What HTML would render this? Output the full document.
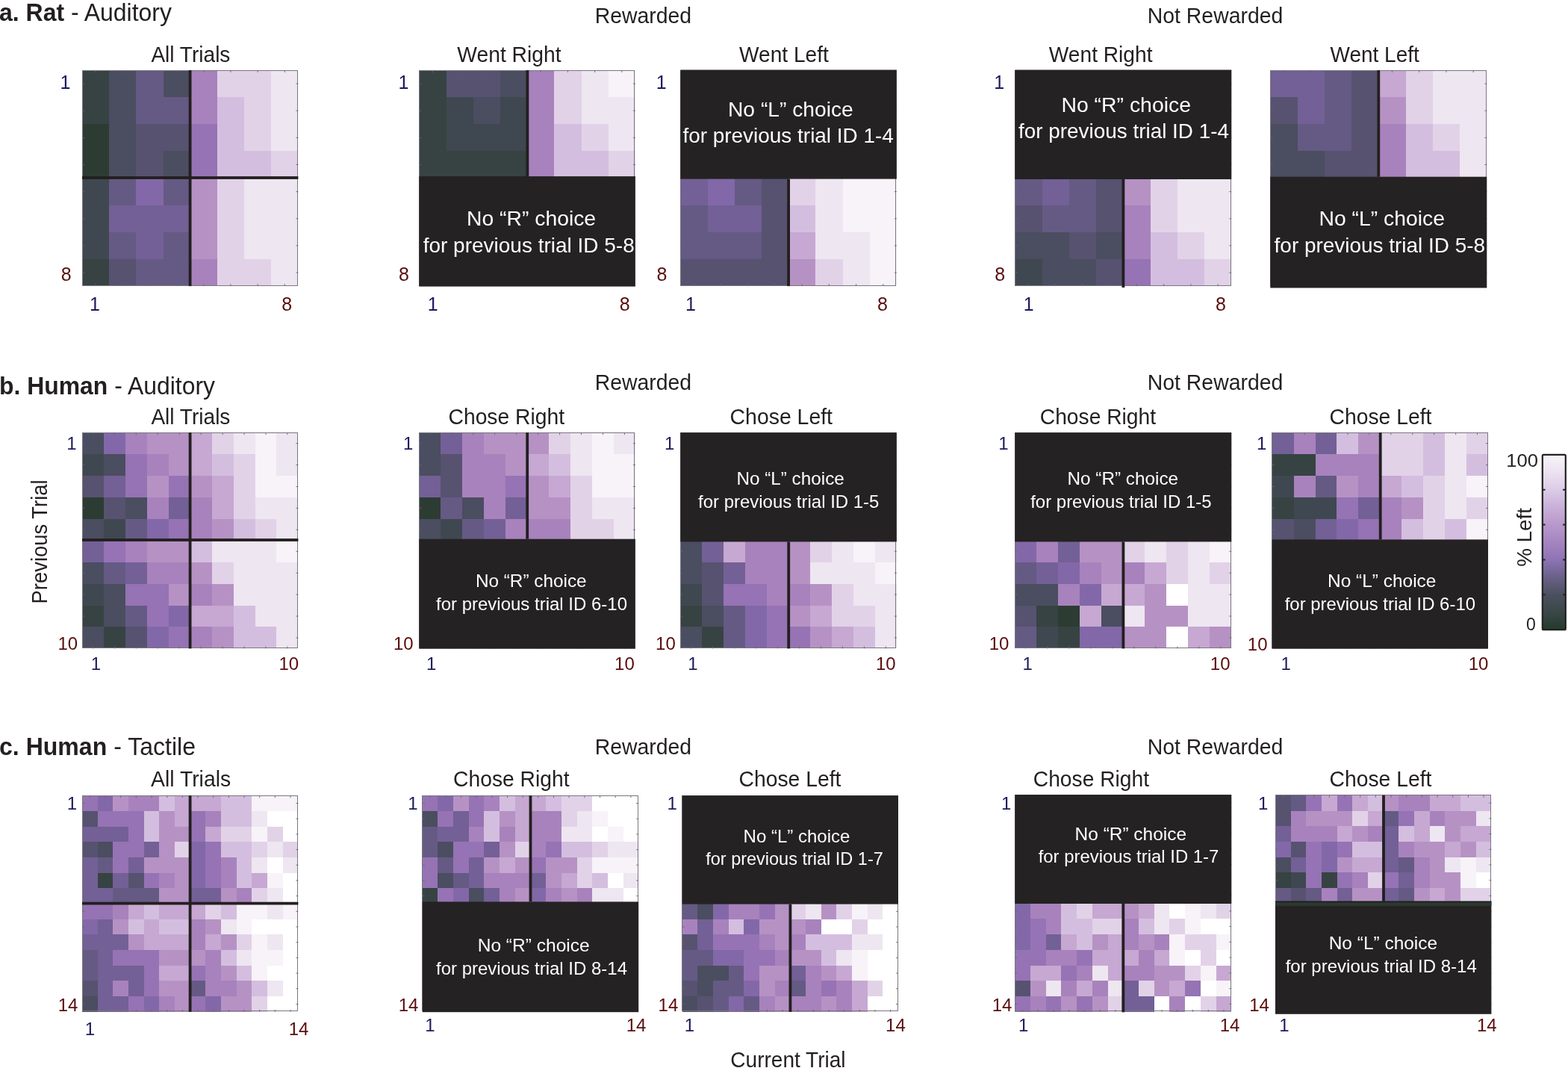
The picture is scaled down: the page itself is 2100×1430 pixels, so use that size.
<!DOCTYPE html>
<html><head><meta charset="utf-8"><title>Figure</title>
<style>
html,body{margin:0;padding:0;background:#fff;}
body{width:2100px;height:1430px;overflow:hidden;}
svg{display:block;font-family:"Liberation Sans",Arial,Helvetica,sans-serif;}
</style></head><body>
<svg width="2100" height="1430" viewBox="0 0 2100 1430">
<rect width="2100" height="1430" fill="#fff"/>
<g shape-rendering="crispEdges">
<rect x="110" y="94" width="36.77" height="36.74" fill="#374342"/>
<rect x="146.18" y="94" width="36.77" height="36.74" fill="#4b4d60"/>
<rect x="182.35" y="94" width="36.77" height="36.74" fill="#655a84"/>
<rect x="218.52" y="94" width="36.77" height="36.74" fill="#4b4d60"/>
<rect x="254.7" y="94" width="36.77" height="36.74" fill="#a882bc"/>
<rect x="290.88" y="94" width="36.77" height="36.74" fill="#e2d2e8"/>
<rect x="327.05" y="94" width="36.77" height="36.74" fill="#e2d2e8"/>
<rect x="363.22" y="94" width="36.17" height="36.74" fill="#eee6f1"/>
<rect x="110" y="130.14" width="36.77" height="36.74" fill="#374342"/>
<rect x="146.18" y="130.14" width="36.77" height="36.74" fill="#4b4d60"/>
<rect x="182.35" y="130.14" width="36.77" height="36.74" fill="#655a84"/>
<rect x="218.52" y="130.14" width="36.77" height="36.74" fill="#655a84"/>
<rect x="254.7" y="130.14" width="36.77" height="36.74" fill="#a882bc"/>
<rect x="290.88" y="130.14" width="36.77" height="36.74" fill="#d4bedf"/>
<rect x="327.05" y="130.14" width="36.77" height="36.74" fill="#e2d2e8"/>
<rect x="363.22" y="130.14" width="36.17" height="36.74" fill="#eee6f1"/>
<rect x="110" y="166.28" width="36.77" height="36.74" fill="#2c3c33"/>
<rect x="146.18" y="166.28" width="36.77" height="36.74" fill="#4b4d60"/>
<rect x="182.35" y="166.28" width="36.77" height="36.74" fill="#575270"/>
<rect x="218.52" y="166.28" width="36.77" height="36.74" fill="#575270"/>
<rect x="254.7" y="166.28" width="36.77" height="36.74" fill="#9673b4"/>
<rect x="290.88" y="166.28" width="36.77" height="36.74" fill="#d4bedf"/>
<rect x="327.05" y="166.28" width="36.77" height="36.74" fill="#e2d2e8"/>
<rect x="363.22" y="166.28" width="36.17" height="36.74" fill="#eee6f1"/>
<rect x="110" y="202.41" width="36.77" height="36.74" fill="#2c3c33"/>
<rect x="146.18" y="202.41" width="36.77" height="36.74" fill="#4b4d60"/>
<rect x="182.35" y="202.41" width="36.77" height="36.74" fill="#575270"/>
<rect x="218.52" y="202.41" width="36.77" height="36.74" fill="#4b4d60"/>
<rect x="254.7" y="202.41" width="36.77" height="36.74" fill="#9673b4"/>
<rect x="290.88" y="202.41" width="36.77" height="36.74" fill="#d4bedf"/>
<rect x="327.05" y="202.41" width="36.77" height="36.74" fill="#d4bedf"/>
<rect x="363.22" y="202.41" width="36.17" height="36.74" fill="#e2d2e8"/>
<rect x="110" y="238.55" width="36.77" height="36.74" fill="#3f4850"/>
<rect x="146.18" y="238.55" width="36.77" height="36.74" fill="#655a84"/>
<rect x="182.35" y="238.55" width="36.77" height="36.74" fill="#8268a8"/>
<rect x="218.52" y="238.55" width="36.77" height="36.74" fill="#655a84"/>
<rect x="254.7" y="238.55" width="36.77" height="36.74" fill="#b692c4"/>
<rect x="290.88" y="238.55" width="36.77" height="36.74" fill="#e2d2e8"/>
<rect x="327.05" y="238.55" width="36.77" height="36.74" fill="#eee6f1"/>
<rect x="363.22" y="238.55" width="36.17" height="36.74" fill="#eee6f1"/>
<rect x="110" y="274.69" width="36.77" height="36.74" fill="#3f4850"/>
<rect x="146.18" y="274.69" width="36.77" height="36.74" fill="#736096"/>
<rect x="182.35" y="274.69" width="36.77" height="36.74" fill="#736096"/>
<rect x="218.52" y="274.69" width="36.77" height="36.74" fill="#736096"/>
<rect x="254.7" y="274.69" width="36.77" height="36.74" fill="#b692c4"/>
<rect x="290.88" y="274.69" width="36.77" height="36.74" fill="#e2d2e8"/>
<rect x="327.05" y="274.69" width="36.77" height="36.74" fill="#eee6f1"/>
<rect x="363.22" y="274.69" width="36.17" height="36.74" fill="#eee6f1"/>
<rect x="110" y="310.83" width="36.77" height="36.74" fill="#3f4850"/>
<rect x="146.18" y="310.83" width="36.77" height="36.74" fill="#655a84"/>
<rect x="182.35" y="310.83" width="36.77" height="36.74" fill="#736096"/>
<rect x="218.52" y="310.83" width="36.77" height="36.74" fill="#655a84"/>
<rect x="254.7" y="310.83" width="36.77" height="36.74" fill="#b692c4"/>
<rect x="290.88" y="310.83" width="36.77" height="36.74" fill="#e2d2e8"/>
<rect x="327.05" y="310.83" width="36.77" height="36.74" fill="#eee6f1"/>
<rect x="363.22" y="310.83" width="36.17" height="36.74" fill="#eee6f1"/>
<rect x="110" y="346.96" width="36.77" height="36.14" fill="#374342"/>
<rect x="146.18" y="346.96" width="36.77" height="36.14" fill="#575270"/>
<rect x="182.35" y="346.96" width="36.77" height="36.14" fill="#655a84"/>
<rect x="218.52" y="346.96" width="36.77" height="36.14" fill="#655a84"/>
<rect x="254.7" y="346.96" width="36.77" height="36.14" fill="#a882bc"/>
<rect x="290.88" y="346.96" width="36.77" height="36.14" fill="#e2d2e8"/>
<rect x="327.05" y="346.96" width="36.77" height="36.14" fill="#e2d2e8"/>
<rect x="363.22" y="346.96" width="36.17" height="36.14" fill="#eee6f1"/>
</g>
<rect x="110.5" y="94.5" width="288" height="288" fill="none" stroke="#7a7680" stroke-width="1"/>
<path d="M128.09 94v3M128.09 383.1v-3M164.26 94v3M164.26 383.1v-3M200.44 94v3M200.44 383.1v-3M236.61 94v3M236.61 383.1v-3M272.79 94v3M272.79 383.1v-3M308.96 94v3M308.96 383.1v-3M345.14 94v3M345.14 383.1v-3M381.31 94v3M381.31 383.1v-3M399.4 112.07h-3M110 112.07h3M399.4 148.21h-3M110 148.21h3M399.4 184.34h-3M110 184.34h3M399.4 220.48h-3M110 220.48h3M399.4 256.62h-3M110 256.62h3M399.4 292.76h-3M110 292.76h3M399.4 328.89h-3M110 328.89h3M399.4 365.03h-3M110 365.03h3" stroke="#6a6670" stroke-width="0.9" fill="none"/>
<rect x="252.7" y="94" width="3.8" height="289.1" fill="#231f20"/>
<rect x="110" y="236.1" width="289.4" height="3.8" fill="#231f20"/>
<g shape-rendering="crispEdges">
<rect x="561.3" y="94" width="36.8" height="36.74" fill="#374342"/>
<rect x="597.5" y="94" width="36.8" height="36.74" fill="#575270"/>
<rect x="633.7" y="94" width="36.8" height="36.74" fill="#575270"/>
<rect x="669.9" y="94" width="36.8" height="36.74" fill="#4b4d60"/>
<rect x="706.1" y="94" width="36.8" height="36.74" fill="#a882bc"/>
<rect x="742.3" y="94" width="36.8" height="36.74" fill="#e2d2e8"/>
<rect x="778.5" y="94" width="36.8" height="36.74" fill="#eee6f1"/>
<rect x="814.7" y="94" width="36.2" height="36.74" fill="#f7f3f8"/>
<rect x="561.3" y="130.14" width="36.8" height="36.74" fill="#374342"/>
<rect x="597.5" y="130.14" width="36.8" height="36.74" fill="#3f4850"/>
<rect x="633.7" y="130.14" width="36.8" height="36.74" fill="#4b4d60"/>
<rect x="669.9" y="130.14" width="36.8" height="36.74" fill="#3f4850"/>
<rect x="706.1" y="130.14" width="36.8" height="36.74" fill="#a882bc"/>
<rect x="742.3" y="130.14" width="36.8" height="36.74" fill="#e2d2e8"/>
<rect x="778.5" y="130.14" width="36.8" height="36.74" fill="#eee6f1"/>
<rect x="814.7" y="130.14" width="36.2" height="36.74" fill="#eee6f1"/>
<rect x="561.3" y="166.28" width="36.8" height="36.74" fill="#374342"/>
<rect x="597.5" y="166.28" width="36.8" height="36.74" fill="#3f4850"/>
<rect x="633.7" y="166.28" width="36.8" height="36.74" fill="#3f4850"/>
<rect x="669.9" y="166.28" width="36.8" height="36.74" fill="#3f4850"/>
<rect x="706.1" y="166.28" width="36.8" height="36.74" fill="#a882bc"/>
<rect x="742.3" y="166.28" width="36.8" height="36.74" fill="#d4bedf"/>
<rect x="778.5" y="166.28" width="36.8" height="36.74" fill="#e2d2e8"/>
<rect x="814.7" y="166.28" width="36.2" height="36.74" fill="#eee6f1"/>
<rect x="561.3" y="202.41" width="36.8" height="36.74" fill="#374342"/>
<rect x="597.5" y="202.41" width="36.8" height="36.74" fill="#374342"/>
<rect x="633.7" y="202.41" width="36.8" height="36.74" fill="#374342"/>
<rect x="669.9" y="202.41" width="36.8" height="36.74" fill="#374342"/>
<rect x="706.1" y="202.41" width="36.8" height="36.74" fill="#a882bc"/>
<rect x="742.3" y="202.41" width="36.8" height="36.74" fill="#d4bedf"/>
<rect x="778.5" y="202.41" width="36.8" height="36.74" fill="#d4bedf"/>
<rect x="814.7" y="202.41" width="36.2" height="36.74" fill="#e2d2e8"/>
</g>
<rect x="561.5" y="94.5" width="288" height="288" fill="none" stroke="#7a7680" stroke-width="1"/>
<path d="M579.4 94v3M579.4 383.1v-3M615.6 94v3M615.6 383.1v-3M651.8 94v3M651.8 383.1v-3M688 94v3M688 383.1v-3M724.2 94v3M724.2 383.1v-3M760.4 94v3M760.4 383.1v-3M796.6 94v3M796.6 383.1v-3M832.8 94v3M832.8 383.1v-3M850.9 112.07h-3M561.3 112.07h3M850.9 148.21h-3M561.3 148.21h3M850.9 184.34h-3M561.3 184.34h3M850.9 220.48h-3M561.3 220.48h3M850.9 256.62h-3M561.3 256.62h3M850.9 292.76h-3M561.3 292.76h3M850.9 328.89h-3M561.3 328.89h3M850.9 365.03h-3M561.3 365.03h3" stroke="#6a6670" stroke-width="0.9" fill="none"/>
<rect x="561.3" y="236.1" width="289.6" height="147.5" fill="#242223"/>
<rect x="704.5" y="94" width="3.8" height="142.5" fill="#231f20"/>
<text x="625" y="301.8" font-size="27.5" fill="#fff" textLength="173.1" lengthAdjust="spacingAndGlyphs">No “R” choice</text>
<text x="566.7" y="337.5" font-size="27.5" fill="#fff" textLength="283" lengthAdjust="spacingAndGlyphs">for previous trial ID 5-8</text>
<g shape-rendering="crispEdges">
<rect x="911.3" y="238.55" width="36.8" height="36.74" fill="#736096"/>
<rect x="947.5" y="238.55" width="36.8" height="36.74" fill="#8268a8"/>
<rect x="983.7" y="238.55" width="36.8" height="36.74" fill="#655a84"/>
<rect x="1019.9" y="238.55" width="36.8" height="36.74" fill="#575270"/>
<rect x="1056.1" y="238.55" width="36.8" height="36.74" fill="#e2d2e8"/>
<rect x="1092.3" y="238.55" width="36.8" height="36.74" fill="#eee6f1"/>
<rect x="1128.5" y="238.55" width="36.8" height="36.74" fill="#f7f3f8"/>
<rect x="1164.7" y="238.55" width="36.2" height="36.74" fill="#f7f3f8"/>
<rect x="911.3" y="274.69" width="36.8" height="36.74" fill="#655a84"/>
<rect x="947.5" y="274.69" width="36.8" height="36.74" fill="#736096"/>
<rect x="983.7" y="274.69" width="36.8" height="36.74" fill="#736096"/>
<rect x="1019.9" y="274.69" width="36.8" height="36.74" fill="#575270"/>
<rect x="1056.1" y="274.69" width="36.8" height="36.74" fill="#d4bedf"/>
<rect x="1092.3" y="274.69" width="36.8" height="36.74" fill="#eee6f1"/>
<rect x="1128.5" y="274.69" width="36.8" height="36.74" fill="#f7f3f8"/>
<rect x="1164.7" y="274.69" width="36.2" height="36.74" fill="#f7f3f8"/>
<rect x="911.3" y="310.83" width="36.8" height="36.74" fill="#655a84"/>
<rect x="947.5" y="310.83" width="36.8" height="36.74" fill="#655a84"/>
<rect x="983.7" y="310.83" width="36.8" height="36.74" fill="#655a84"/>
<rect x="1019.9" y="310.83" width="36.8" height="36.74" fill="#575270"/>
<rect x="1056.1" y="310.83" width="36.8" height="36.74" fill="#c6a8d2"/>
<rect x="1092.3" y="310.83" width="36.8" height="36.74" fill="#eee6f1"/>
<rect x="1128.5" y="310.83" width="36.8" height="36.74" fill="#eee6f1"/>
<rect x="1164.7" y="310.83" width="36.2" height="36.74" fill="#f7f3f8"/>
<rect x="911.3" y="346.96" width="36.8" height="36.14" fill="#575270"/>
<rect x="947.5" y="346.96" width="36.8" height="36.14" fill="#575270"/>
<rect x="983.7" y="346.96" width="36.8" height="36.14" fill="#575270"/>
<rect x="1019.9" y="346.96" width="36.8" height="36.14" fill="#575270"/>
<rect x="1056.1" y="346.96" width="36.8" height="36.14" fill="#b692c4"/>
<rect x="1092.3" y="346.96" width="36.8" height="36.14" fill="#e2d2e8"/>
<rect x="1128.5" y="346.96" width="36.8" height="36.14" fill="#eee6f1"/>
<rect x="1164.7" y="346.96" width="36.2" height="36.14" fill="#f7f3f8"/>
</g>
<rect x="911.5" y="94.5" width="288" height="288" fill="none" stroke="#7a7680" stroke-width="1"/>
<path d="M929.4 94v3M929.4 383.1v-3M965.6 94v3M965.6 383.1v-3M1001.8 94v3M1001.8 383.1v-3M1038 94v3M1038 383.1v-3M1074.2 94v3M1074.2 383.1v-3M1110.4 94v3M1110.4 383.1v-3M1146.6 94v3M1146.6 383.1v-3M1182.8 94v3M1182.8 383.1v-3M1200.9 112.07h-3M911.3 112.07h3M1200.9 148.21h-3M911.3 148.21h3M1200.9 184.34h-3M911.3 184.34h3M1200.9 220.48h-3M911.3 220.48h3M1200.9 256.62h-3M911.3 256.62h3M1200.9 292.76h-3M911.3 292.76h3M1200.9 328.89h-3M911.3 328.89h3M1200.9 365.03h-3M911.3 365.03h3" stroke="#6a6670" stroke-width="0.9" fill="none"/>
<rect x="911.3" y="93.5" width="289.6" height="146.1" fill="#242223"/>
<rect x="1054.2" y="239.6" width="3.8" height="143.5" fill="#231f20"/>
<text x="975" y="155.5" font-size="27.5" fill="#fff" textLength="167.7" lengthAdjust="spacingAndGlyphs">No “L” choice</text>
<text x="914.4" y="191.2" font-size="27.5" fill="#fff" textLength="282.5" lengthAdjust="spacingAndGlyphs">for previous trial ID 1-4</text>
<g shape-rendering="crispEdges">
<rect x="1359.3" y="238.55" width="36.85" height="36.74" fill="#655a84"/>
<rect x="1395.55" y="238.55" width="36.85" height="36.74" fill="#736096"/>
<rect x="1431.8" y="238.55" width="36.85" height="36.74" fill="#655a84"/>
<rect x="1468.05" y="238.55" width="36.85" height="36.74" fill="#575270"/>
<rect x="1504.3" y="238.55" width="36.85" height="36.74" fill="#b692c4"/>
<rect x="1540.55" y="238.55" width="36.85" height="36.74" fill="#e2d2e8"/>
<rect x="1576.8" y="238.55" width="36.85" height="36.74" fill="#eee6f1"/>
<rect x="1613.05" y="238.55" width="36.25" height="36.74" fill="#eee6f1"/>
<rect x="1359.3" y="274.69" width="36.85" height="36.74" fill="#575270"/>
<rect x="1395.55" y="274.69" width="36.85" height="36.74" fill="#655a84"/>
<rect x="1431.8" y="274.69" width="36.85" height="36.74" fill="#655a84"/>
<rect x="1468.05" y="274.69" width="36.85" height="36.74" fill="#575270"/>
<rect x="1504.3" y="274.69" width="36.85" height="36.74" fill="#a882bc"/>
<rect x="1540.55" y="274.69" width="36.85" height="36.74" fill="#e2d2e8"/>
<rect x="1576.8" y="274.69" width="36.85" height="36.74" fill="#eee6f1"/>
<rect x="1613.05" y="274.69" width="36.25" height="36.74" fill="#eee6f1"/>
<rect x="1359.3" y="310.83" width="36.85" height="36.74" fill="#4b4d60"/>
<rect x="1395.55" y="310.83" width="36.85" height="36.74" fill="#4b4d60"/>
<rect x="1431.8" y="310.83" width="36.85" height="36.74" fill="#575270"/>
<rect x="1468.05" y="310.83" width="36.85" height="36.74" fill="#4b4d60"/>
<rect x="1504.3" y="310.83" width="36.85" height="36.74" fill="#a882bc"/>
<rect x="1540.55" y="310.83" width="36.85" height="36.74" fill="#d4bedf"/>
<rect x="1576.8" y="310.83" width="36.85" height="36.74" fill="#e2d2e8"/>
<rect x="1613.05" y="310.83" width="36.25" height="36.74" fill="#eee6f1"/>
<rect x="1359.3" y="346.96" width="36.85" height="36.14" fill="#3f4850"/>
<rect x="1395.55" y="346.96" width="36.85" height="36.14" fill="#4b4d60"/>
<rect x="1431.8" y="346.96" width="36.85" height="36.14" fill="#4b4d60"/>
<rect x="1468.05" y="346.96" width="36.85" height="36.14" fill="#575270"/>
<rect x="1504.3" y="346.96" width="36.85" height="36.14" fill="#9673b4"/>
<rect x="1540.55" y="346.96" width="36.85" height="36.14" fill="#d4bedf"/>
<rect x="1576.8" y="346.96" width="36.85" height="36.14" fill="#d4bedf"/>
<rect x="1613.05" y="346.96" width="36.25" height="36.14" fill="#e2d2e8"/>
</g>
<rect x="1359.5" y="94.5" width="289" height="288" fill="none" stroke="#7a7680" stroke-width="1"/>
<path d="M1377.42 94v3M1377.42 383.1v-3M1413.67 94v3M1413.67 383.1v-3M1449.92 94v3M1449.92 383.1v-3M1486.17 94v3M1486.17 383.1v-3M1522.42 94v3M1522.42 383.1v-3M1558.67 94v3M1558.67 383.1v-3M1594.92 94v3M1594.92 383.1v-3M1631.17 94v3M1631.17 383.1v-3M1649.3 112.07h-3M1359.3 112.07h3M1649.3 148.21h-3M1359.3 148.21h3M1649.3 184.34h-3M1359.3 184.34h3M1649.3 220.48h-3M1359.3 220.48h3M1649.3 256.62h-3M1359.3 256.62h3M1649.3 292.76h-3M1359.3 292.76h3M1649.3 328.89h-3M1359.3 328.89h3M1649.3 365.03h-3M1359.3 365.03h3" stroke="#6a6670" stroke-width="0.9" fill="none"/>
<rect x="1359.3" y="93.5" width="290" height="146.5" fill="#242223"/>
<rect x="1502.5" y="240" width="3.8" height="145" fill="#231f20"/>
<text x="1421.4" y="149.6" font-size="27.5" fill="#fff" textLength="173.6" lengthAdjust="spacingAndGlyphs">No “R” choice</text>
<text x="1364" y="185.2" font-size="27.5" fill="#fff" textLength="282" lengthAdjust="spacingAndGlyphs">for previous trial ID 1-4</text>
<g shape-rendering="crispEdges">
<rect x="1701.3" y="94" width="36.85" height="36.74" fill="#736096"/>
<rect x="1737.55" y="94" width="36.85" height="36.74" fill="#736096"/>
<rect x="1773.8" y="94" width="36.85" height="36.74" fill="#655a84"/>
<rect x="1810.05" y="94" width="36.85" height="36.74" fill="#575270"/>
<rect x="1846.3" y="94" width="36.85" height="36.74" fill="#c6a8d2"/>
<rect x="1882.55" y="94" width="36.85" height="36.74" fill="#e2d2e8"/>
<rect x="1918.8" y="94" width="36.85" height="36.74" fill="#eee6f1"/>
<rect x="1955.05" y="94" width="36.25" height="36.74" fill="#eee6f1"/>
<rect x="1701.3" y="130.14" width="36.85" height="36.74" fill="#575270"/>
<rect x="1737.55" y="130.14" width="36.85" height="36.74" fill="#736096"/>
<rect x="1773.8" y="130.14" width="36.85" height="36.74" fill="#655a84"/>
<rect x="1810.05" y="130.14" width="36.85" height="36.74" fill="#575270"/>
<rect x="1846.3" y="130.14" width="36.85" height="36.74" fill="#b692c4"/>
<rect x="1882.55" y="130.14" width="36.85" height="36.74" fill="#e2d2e8"/>
<rect x="1918.8" y="130.14" width="36.85" height="36.74" fill="#eee6f1"/>
<rect x="1955.05" y="130.14" width="36.25" height="36.74" fill="#eee6f1"/>
<rect x="1701.3" y="166.28" width="36.85" height="36.74" fill="#4b4d60"/>
<rect x="1737.55" y="166.28" width="36.85" height="36.74" fill="#655a84"/>
<rect x="1773.8" y="166.28" width="36.85" height="36.74" fill="#655a84"/>
<rect x="1810.05" y="166.28" width="36.85" height="36.74" fill="#575270"/>
<rect x="1846.3" y="166.28" width="36.85" height="36.74" fill="#a882bc"/>
<rect x="1882.55" y="166.28" width="36.85" height="36.74" fill="#d4bedf"/>
<rect x="1918.8" y="166.28" width="36.85" height="36.74" fill="#e2d2e8"/>
<rect x="1955.05" y="166.28" width="36.25" height="36.74" fill="#eee6f1"/>
<rect x="1701.3" y="202.41" width="36.85" height="36.74" fill="#4b4d60"/>
<rect x="1737.55" y="202.41" width="36.85" height="36.74" fill="#4b4d60"/>
<rect x="1773.8" y="202.41" width="36.85" height="36.74" fill="#575270"/>
<rect x="1810.05" y="202.41" width="36.85" height="36.74" fill="#575270"/>
<rect x="1846.3" y="202.41" width="36.85" height="36.74" fill="#a882bc"/>
<rect x="1882.55" y="202.41" width="36.85" height="36.74" fill="#d4bedf"/>
<rect x="1918.8" y="202.41" width="36.85" height="36.74" fill="#d4bedf"/>
<rect x="1955.05" y="202.41" width="36.25" height="36.74" fill="#eee6f1"/>
</g>
<rect x="1701.5" y="94.5" width="289" height="288" fill="none" stroke="#7a7680" stroke-width="1"/>
<path d="M1719.42 94v3M1719.42 383.1v-3M1755.67 94v3M1755.67 383.1v-3M1791.92 94v3M1791.92 383.1v-3M1828.17 94v3M1828.17 383.1v-3M1864.42 94v3M1864.42 383.1v-3M1900.67 94v3M1900.67 383.1v-3M1936.92 94v3M1936.92 383.1v-3M1973.17 94v3M1973.17 383.1v-3M1991.3 112.07h-3M1701.3 112.07h3M1991.3 148.21h-3M1701.3 148.21h3M1991.3 184.34h-3M1701.3 184.34h3M1991.3 220.48h-3M1701.3 220.48h3M1991.3 256.62h-3M1701.3 256.62h3M1991.3 292.76h-3M1701.3 292.76h3M1991.3 328.89h-3M1701.3 328.89h3M1991.3 365.03h-3M1701.3 365.03h3" stroke="#6a6670" stroke-width="0.9" fill="none"/>
<rect x="1701.3" y="236.7" width="290" height="148.8" fill="#242223"/>
<rect x="1844.4" y="94" width="3.8" height="142.7" fill="#231f20"/>
<text x="1766.5" y="302.4" font-size="27.5" fill="#fff" textLength="168.4" lengthAdjust="spacingAndGlyphs">No “L” choice</text>
<text x="1706.6" y="338.2" font-size="27.5" fill="#fff" textLength="282.4" lengthAdjust="spacingAndGlyphs">for previous trial ID 5-8</text>
<g shape-rendering="crispEdges">
<rect x="110" y="579.2" width="29.54" height="29.52" fill="#4b4d60"/>
<rect x="138.94" y="579.2" width="29.54" height="29.52" fill="#8268a8"/>
<rect x="167.88" y="579.2" width="29.54" height="29.52" fill="#a882bc"/>
<rect x="196.82" y="579.2" width="29.54" height="29.52" fill="#b692c4"/>
<rect x="225.76" y="579.2" width="29.54" height="29.52" fill="#b692c4"/>
<rect x="254.7" y="579.2" width="29.54" height="29.52" fill="#c6a8d2"/>
<rect x="283.64" y="579.2" width="29.54" height="29.52" fill="#e2d2e8"/>
<rect x="312.58" y="579.2" width="29.54" height="29.52" fill="#eee6f1"/>
<rect x="341.52" y="579.2" width="29.54" height="29.52" fill="#f7f3f8"/>
<rect x="370.46" y="579.2" width="28.94" height="29.52" fill="#eee6f1"/>
<rect x="110" y="608.12" width="29.54" height="29.52" fill="#3f4850"/>
<rect x="138.94" y="608.12" width="29.54" height="29.52" fill="#4b4d60"/>
<rect x="167.88" y="608.12" width="29.54" height="29.52" fill="#9673b4"/>
<rect x="196.82" y="608.12" width="29.54" height="29.52" fill="#a882bc"/>
<rect x="225.76" y="608.12" width="29.54" height="29.52" fill="#b692c4"/>
<rect x="254.7" y="608.12" width="29.54" height="29.52" fill="#c6a8d2"/>
<rect x="283.64" y="608.12" width="29.54" height="29.52" fill="#d4bedf"/>
<rect x="312.58" y="608.12" width="29.54" height="29.52" fill="#e2d2e8"/>
<rect x="341.52" y="608.12" width="29.54" height="29.52" fill="#f7f3f8"/>
<rect x="370.46" y="608.12" width="28.94" height="29.52" fill="#eee6f1"/>
<rect x="110" y="637.04" width="29.54" height="29.52" fill="#575270"/>
<rect x="138.94" y="637.04" width="29.54" height="29.52" fill="#736096"/>
<rect x="167.88" y="637.04" width="29.54" height="29.52" fill="#9673b4"/>
<rect x="196.82" y="637.04" width="29.54" height="29.52" fill="#b692c4"/>
<rect x="225.76" y="637.04" width="29.54" height="29.52" fill="#9673b4"/>
<rect x="254.7" y="637.04" width="29.54" height="29.52" fill="#b692c4"/>
<rect x="283.64" y="637.04" width="29.54" height="29.52" fill="#c6a8d2"/>
<rect x="312.58" y="637.04" width="29.54" height="29.52" fill="#e2d2e8"/>
<rect x="341.52" y="637.04" width="29.54" height="29.52" fill="#f7f3f8"/>
<rect x="370.46" y="637.04" width="28.94" height="29.52" fill="#f7f3f8"/>
<rect x="110" y="665.96" width="29.54" height="29.52" fill="#2c3c33"/>
<rect x="138.94" y="665.96" width="29.54" height="29.52" fill="#575270"/>
<rect x="167.88" y="665.96" width="29.54" height="29.52" fill="#4b4d60"/>
<rect x="196.82" y="665.96" width="29.54" height="29.52" fill="#a882bc"/>
<rect x="225.76" y="665.96" width="29.54" height="29.52" fill="#736096"/>
<rect x="254.7" y="665.96" width="29.54" height="29.52" fill="#a882bc"/>
<rect x="283.64" y="665.96" width="29.54" height="29.52" fill="#c6a8d2"/>
<rect x="312.58" y="665.96" width="29.54" height="29.52" fill="#e2d2e8"/>
<rect x="341.52" y="665.96" width="29.54" height="29.52" fill="#eee6f1"/>
<rect x="370.46" y="665.96" width="28.94" height="29.52" fill="#eee6f1"/>
<rect x="110" y="694.88" width="29.54" height="29.52" fill="#4b4d60"/>
<rect x="138.94" y="694.88" width="29.54" height="29.52" fill="#3f4850"/>
<rect x="167.88" y="694.88" width="29.54" height="29.52" fill="#655a84"/>
<rect x="196.82" y="694.88" width="29.54" height="29.52" fill="#8268a8"/>
<rect x="225.76" y="694.88" width="29.54" height="29.52" fill="#9673b4"/>
<rect x="254.7" y="694.88" width="29.54" height="29.52" fill="#a882bc"/>
<rect x="283.64" y="694.88" width="29.54" height="29.52" fill="#b692c4"/>
<rect x="312.58" y="694.88" width="29.54" height="29.52" fill="#d4bedf"/>
<rect x="341.52" y="694.88" width="29.54" height="29.52" fill="#e2d2e8"/>
<rect x="370.46" y="694.88" width="28.94" height="29.52" fill="#eee6f1"/>
<rect x="110" y="723.8" width="29.54" height="29.52" fill="#736096"/>
<rect x="138.94" y="723.8" width="29.54" height="29.52" fill="#9673b4"/>
<rect x="167.88" y="723.8" width="29.54" height="29.52" fill="#a882bc"/>
<rect x="196.82" y="723.8" width="29.54" height="29.52" fill="#b692c4"/>
<rect x="225.76" y="723.8" width="29.54" height="29.52" fill="#b692c4"/>
<rect x="254.7" y="723.8" width="29.54" height="29.52" fill="#d4bedf"/>
<rect x="283.64" y="723.8" width="29.54" height="29.52" fill="#eee6f1"/>
<rect x="312.58" y="723.8" width="29.54" height="29.52" fill="#eee6f1"/>
<rect x="341.52" y="723.8" width="29.54" height="29.52" fill="#eee6f1"/>
<rect x="370.46" y="723.8" width="28.94" height="29.52" fill="#f7f3f8"/>
<rect x="110" y="752.72" width="29.54" height="29.52" fill="#4b4d60"/>
<rect x="138.94" y="752.72" width="29.54" height="29.52" fill="#655a84"/>
<rect x="167.88" y="752.72" width="29.54" height="29.52" fill="#736096"/>
<rect x="196.82" y="752.72" width="29.54" height="29.52" fill="#a882bc"/>
<rect x="225.76" y="752.72" width="29.54" height="29.52" fill="#a882bc"/>
<rect x="254.7" y="752.72" width="29.54" height="29.52" fill="#b692c4"/>
<rect x="283.64" y="752.72" width="29.54" height="29.52" fill="#e2d2e8"/>
<rect x="312.58" y="752.72" width="29.54" height="29.52" fill="#eee6f1"/>
<rect x="341.52" y="752.72" width="29.54" height="29.52" fill="#eee6f1"/>
<rect x="370.46" y="752.72" width="28.94" height="29.52" fill="#eee6f1"/>
<rect x="110" y="781.64" width="29.54" height="29.52" fill="#3f4850"/>
<rect x="138.94" y="781.64" width="29.54" height="29.52" fill="#4b4d60"/>
<rect x="167.88" y="781.64" width="29.54" height="29.52" fill="#9673b4"/>
<rect x="196.82" y="781.64" width="29.54" height="29.52" fill="#9673b4"/>
<rect x="225.76" y="781.64" width="29.54" height="29.52" fill="#b692c4"/>
<rect x="254.7" y="781.64" width="29.54" height="29.52" fill="#a882bc"/>
<rect x="283.64" y="781.64" width="29.54" height="29.52" fill="#b692c4"/>
<rect x="312.58" y="781.64" width="29.54" height="29.52" fill="#eee6f1"/>
<rect x="341.52" y="781.64" width="29.54" height="29.52" fill="#eee6f1"/>
<rect x="370.46" y="781.64" width="28.94" height="29.52" fill="#eee6f1"/>
<rect x="110" y="810.56" width="29.54" height="29.52" fill="#374342"/>
<rect x="138.94" y="810.56" width="29.54" height="29.52" fill="#4b4d60"/>
<rect x="167.88" y="810.56" width="29.54" height="29.52" fill="#655a84"/>
<rect x="196.82" y="810.56" width="29.54" height="29.52" fill="#9673b4"/>
<rect x="225.76" y="810.56" width="29.54" height="29.52" fill="#8268a8"/>
<rect x="254.7" y="810.56" width="29.54" height="29.52" fill="#c6a8d2"/>
<rect x="283.64" y="810.56" width="29.54" height="29.52" fill="#c6a8d2"/>
<rect x="312.58" y="810.56" width="29.54" height="29.52" fill="#d4bedf"/>
<rect x="341.52" y="810.56" width="29.54" height="29.52" fill="#eee6f1"/>
<rect x="370.46" y="810.56" width="28.94" height="29.52" fill="#eee6f1"/>
<rect x="110" y="839.48" width="29.54" height="28.92" fill="#4b4d60"/>
<rect x="138.94" y="839.48" width="29.54" height="28.92" fill="#374342"/>
<rect x="167.88" y="839.48" width="29.54" height="28.92" fill="#575270"/>
<rect x="196.82" y="839.48" width="29.54" height="28.92" fill="#8268a8"/>
<rect x="225.76" y="839.48" width="29.54" height="28.92" fill="#9673b4"/>
<rect x="254.7" y="839.48" width="29.54" height="28.92" fill="#a882bc"/>
<rect x="283.64" y="839.48" width="29.54" height="28.92" fill="#b692c4"/>
<rect x="312.58" y="839.48" width="29.54" height="28.92" fill="#d4bedf"/>
<rect x="341.52" y="839.48" width="29.54" height="28.92" fill="#d4bedf"/>
<rect x="370.46" y="839.48" width="28.94" height="28.92" fill="#eee6f1"/>
</g>
<rect x="110.5" y="579.5" width="288" height="288" fill="none" stroke="#7a7680" stroke-width="1"/>
<path d="M124.47 579.2v3M124.47 868.4v-3M153.41 579.2v3M153.41 868.4v-3M182.35 579.2v3M182.35 868.4v-3M211.29 579.2v3M211.29 868.4v-3M240.23 579.2v3M240.23 868.4v-3M269.17 579.2v3M269.17 868.4v-3M298.11 579.2v3M298.11 868.4v-3M327.05 579.2v3M327.05 868.4v-3M355.99 579.2v3M355.99 868.4v-3M384.93 579.2v3M384.93 868.4v-3M399.4 593.66h-3M110 593.66h3M399.4 622.58h-3M110 622.58h3M399.4 651.5h-3M110 651.5h3M399.4 680.42h-3M110 680.42h3M399.4 709.34h-3M110 709.34h3M399.4 738.26h-3M110 738.26h3M399.4 767.18h-3M110 767.18h3M399.4 796.1h-3M110 796.1h3M399.4 825.02h-3M110 825.02h3M399.4 853.94h-3M110 853.94h3" stroke="#6a6670" stroke-width="0.9" fill="none"/>
<rect x="252.7" y="579.2" width="3.8" height="289.2" fill="#231f20"/>
<rect x="110" y="721.1" width="289.4" height="3.8" fill="#231f20"/>
<g shape-rendering="crispEdges">
<rect x="561.3" y="579.2" width="29.56" height="29.52" fill="#4b4d60"/>
<rect x="590.26" y="579.2" width="29.56" height="29.52" fill="#736096"/>
<rect x="619.22" y="579.2" width="29.56" height="29.52" fill="#a882bc"/>
<rect x="648.18" y="579.2" width="29.56" height="29.52" fill="#b692c4"/>
<rect x="677.14" y="579.2" width="29.56" height="29.52" fill="#b692c4"/>
<rect x="706.1" y="579.2" width="29.56" height="29.52" fill="#b692c4"/>
<rect x="735.06" y="579.2" width="29.56" height="29.52" fill="#e2d2e8"/>
<rect x="764.02" y="579.2" width="29.56" height="29.52" fill="#eee6f1"/>
<rect x="792.98" y="579.2" width="29.56" height="29.52" fill="#f7f3f8"/>
<rect x="821.94" y="579.2" width="28.96" height="29.52" fill="#eee6f1"/>
<rect x="561.3" y="608.12" width="29.56" height="29.52" fill="#4b4d60"/>
<rect x="590.26" y="608.12" width="29.56" height="29.52" fill="#575270"/>
<rect x="619.22" y="608.12" width="29.56" height="29.52" fill="#a882bc"/>
<rect x="648.18" y="608.12" width="29.56" height="29.52" fill="#a882bc"/>
<rect x="677.14" y="608.12" width="29.56" height="29.52" fill="#b692c4"/>
<rect x="706.1" y="608.12" width="29.56" height="29.52" fill="#c6a8d2"/>
<rect x="735.06" y="608.12" width="29.56" height="29.52" fill="#d4bedf"/>
<rect x="764.02" y="608.12" width="29.56" height="29.52" fill="#eee6f1"/>
<rect x="792.98" y="608.12" width="29.56" height="29.52" fill="#f7f3f8"/>
<rect x="821.94" y="608.12" width="28.96" height="29.52" fill="#f7f3f8"/>
<rect x="561.3" y="637.04" width="29.56" height="29.52" fill="#736096"/>
<rect x="590.26" y="637.04" width="29.56" height="29.52" fill="#575270"/>
<rect x="619.22" y="637.04" width="29.56" height="29.52" fill="#a882bc"/>
<rect x="648.18" y="637.04" width="29.56" height="29.52" fill="#a882bc"/>
<rect x="677.14" y="637.04" width="29.56" height="29.52" fill="#9673b4"/>
<rect x="706.1" y="637.04" width="29.56" height="29.52" fill="#b692c4"/>
<rect x="735.06" y="637.04" width="29.56" height="29.52" fill="#c6a8d2"/>
<rect x="764.02" y="637.04" width="29.56" height="29.52" fill="#e2d2e8"/>
<rect x="792.98" y="637.04" width="29.56" height="29.52" fill="#f7f3f8"/>
<rect x="821.94" y="637.04" width="28.96" height="29.52" fill="#f7f3f8"/>
<rect x="561.3" y="665.96" width="29.56" height="29.52" fill="#2c3c33"/>
<rect x="590.26" y="665.96" width="29.56" height="29.52" fill="#655a84"/>
<rect x="619.22" y="665.96" width="29.56" height="29.52" fill="#4b4d60"/>
<rect x="648.18" y="665.96" width="29.56" height="29.52" fill="#a882bc"/>
<rect x="677.14" y="665.96" width="29.56" height="29.52" fill="#736096"/>
<rect x="706.1" y="665.96" width="29.56" height="29.52" fill="#b692c4"/>
<rect x="735.06" y="665.96" width="29.56" height="29.52" fill="#b692c4"/>
<rect x="764.02" y="665.96" width="29.56" height="29.52" fill="#e2d2e8"/>
<rect x="792.98" y="665.96" width="29.56" height="29.52" fill="#eee6f1"/>
<rect x="821.94" y="665.96" width="28.96" height="29.52" fill="#eee6f1"/>
<rect x="561.3" y="694.88" width="29.56" height="29.52" fill="#4b4d60"/>
<rect x="590.26" y="694.88" width="29.56" height="29.52" fill="#3f4850"/>
<rect x="619.22" y="694.88" width="29.56" height="29.52" fill="#655a84"/>
<rect x="648.18" y="694.88" width="29.56" height="29.52" fill="#736096"/>
<rect x="677.14" y="694.88" width="29.56" height="29.52" fill="#a882bc"/>
<rect x="706.1" y="694.88" width="29.56" height="29.52" fill="#a882bc"/>
<rect x="735.06" y="694.88" width="29.56" height="29.52" fill="#a882bc"/>
<rect x="764.02" y="694.88" width="29.56" height="29.52" fill="#e2d2e8"/>
<rect x="792.98" y="694.88" width="29.56" height="29.52" fill="#e2d2e8"/>
<rect x="821.94" y="694.88" width="28.96" height="29.52" fill="#eee6f1"/>
</g>
<rect x="561.5" y="579.5" width="288" height="288" fill="none" stroke="#7a7680" stroke-width="1"/>
<path d="M575.78 579.2v3M575.78 868.4v-3M604.74 579.2v3M604.74 868.4v-3M633.7 579.2v3M633.7 868.4v-3M662.66 579.2v3M662.66 868.4v-3M691.62 579.2v3M691.62 868.4v-3M720.58 579.2v3M720.58 868.4v-3M749.54 579.2v3M749.54 868.4v-3M778.5 579.2v3M778.5 868.4v-3M807.46 579.2v3M807.46 868.4v-3M836.42 579.2v3M836.42 868.4v-3M850.9 593.66h-3M561.3 593.66h3M850.9 622.58h-3M561.3 622.58h3M850.9 651.5h-3M561.3 651.5h3M850.9 680.42h-3M561.3 680.42h3M850.9 709.34h-3M561.3 709.34h3M850.9 738.26h-3M561.3 738.26h3M850.9 767.18h-3M561.3 767.18h3M850.9 796.1h-3M561.3 796.1h3M850.9 825.02h-3M561.3 825.02h3M850.9 853.94h-3M561.3 853.94h3" stroke="#6a6670" stroke-width="0.9" fill="none"/>
<rect x="561.3" y="721.7" width="289.6" height="147" fill="#242223"/>
<rect x="704.3" y="579.2" width="3.8" height="142.5" fill="#231f20"/>
<text x="636.9" y="786.3" font-size="24.5" fill="#fff" textLength="148.7" lengthAdjust="spacingAndGlyphs">No “R” choice</text>
<text x="584" y="817.1" font-size="24.5" fill="#fff" textLength="256" lengthAdjust="spacingAndGlyphs">for previous trial ID 6-10</text>
<g shape-rendering="crispEdges">
<rect x="911.3" y="723.8" width="29.56" height="29.52" fill="#4b4d60"/>
<rect x="940.26" y="723.8" width="29.56" height="29.52" fill="#736096"/>
<rect x="969.22" y="723.8" width="29.56" height="29.52" fill="#c6a8d2"/>
<rect x="998.18" y="723.8" width="29.56" height="29.52" fill="#a882bc"/>
<rect x="1027.14" y="723.8" width="29.56" height="29.52" fill="#a882bc"/>
<rect x="1056.1" y="723.8" width="29.56" height="29.52" fill="#b692c4"/>
<rect x="1085.06" y="723.8" width="29.56" height="29.52" fill="#e2d2e8"/>
<rect x="1114.02" y="723.8" width="29.56" height="29.52" fill="#eee6f1"/>
<rect x="1142.98" y="723.8" width="29.56" height="29.52" fill="#f7f3f8"/>
<rect x="1171.94" y="723.8" width="28.96" height="29.52" fill="#eee6f1"/>
<rect x="911.3" y="752.72" width="29.56" height="29.52" fill="#4b4d60"/>
<rect x="940.26" y="752.72" width="29.56" height="29.52" fill="#575270"/>
<rect x="969.22" y="752.72" width="29.56" height="29.52" fill="#736096"/>
<rect x="998.18" y="752.72" width="29.56" height="29.52" fill="#a882bc"/>
<rect x="1027.14" y="752.72" width="29.56" height="29.52" fill="#a882bc"/>
<rect x="1056.1" y="752.72" width="29.56" height="29.52" fill="#b692c4"/>
<rect x="1085.06" y="752.72" width="29.56" height="29.52" fill="#eee6f1"/>
<rect x="1114.02" y="752.72" width="29.56" height="29.52" fill="#eee6f1"/>
<rect x="1142.98" y="752.72" width="29.56" height="29.52" fill="#eee6f1"/>
<rect x="1171.94" y="752.72" width="28.96" height="29.52" fill="#f7f3f8"/>
<rect x="911.3" y="781.64" width="29.56" height="29.52" fill="#3f4850"/>
<rect x="940.26" y="781.64" width="29.56" height="29.52" fill="#575270"/>
<rect x="969.22" y="781.64" width="29.56" height="29.52" fill="#9673b4"/>
<rect x="998.18" y="781.64" width="29.56" height="29.52" fill="#9673b4"/>
<rect x="1027.14" y="781.64" width="29.56" height="29.52" fill="#a882bc"/>
<rect x="1056.1" y="781.64" width="29.56" height="29.52" fill="#a882bc"/>
<rect x="1085.06" y="781.64" width="29.56" height="29.52" fill="#b692c4"/>
<rect x="1114.02" y="781.64" width="29.56" height="29.52" fill="#e2d2e8"/>
<rect x="1142.98" y="781.64" width="29.56" height="29.52" fill="#eee6f1"/>
<rect x="1171.94" y="781.64" width="28.96" height="29.52" fill="#eee6f1"/>
<rect x="911.3" y="810.56" width="29.56" height="29.52" fill="#374342"/>
<rect x="940.26" y="810.56" width="29.56" height="29.52" fill="#4b4d60"/>
<rect x="969.22" y="810.56" width="29.56" height="29.52" fill="#655a84"/>
<rect x="998.18" y="810.56" width="29.56" height="29.52" fill="#8268a8"/>
<rect x="1027.14" y="810.56" width="29.56" height="29.52" fill="#9673b4"/>
<rect x="1056.1" y="810.56" width="29.56" height="29.52" fill="#b692c4"/>
<rect x="1085.06" y="810.56" width="29.56" height="29.52" fill="#c6a8d2"/>
<rect x="1114.02" y="810.56" width="29.56" height="29.52" fill="#e2d2e8"/>
<rect x="1142.98" y="810.56" width="29.56" height="29.52" fill="#e2d2e8"/>
<rect x="1171.94" y="810.56" width="28.96" height="29.52" fill="#eee6f1"/>
<rect x="911.3" y="839.48" width="29.56" height="28.92" fill="#4b4d60"/>
<rect x="940.26" y="839.48" width="29.56" height="28.92" fill="#374342"/>
<rect x="969.22" y="839.48" width="29.56" height="28.92" fill="#655a84"/>
<rect x="998.18" y="839.48" width="29.56" height="28.92" fill="#8268a8"/>
<rect x="1027.14" y="839.48" width="29.56" height="28.92" fill="#9673b4"/>
<rect x="1056.1" y="839.48" width="29.56" height="28.92" fill="#9673b4"/>
<rect x="1085.06" y="839.48" width="29.56" height="28.92" fill="#b692c4"/>
<rect x="1114.02" y="839.48" width="29.56" height="28.92" fill="#c6a8d2"/>
<rect x="1142.98" y="839.48" width="29.56" height="28.92" fill="#d4bedf"/>
<rect x="1171.94" y="839.48" width="28.96" height="28.92" fill="#eee6f1"/>
</g>
<rect x="911.5" y="579.5" width="288" height="288" fill="none" stroke="#7a7680" stroke-width="1"/>
<path d="M925.78 579.2v3M925.78 868.4v-3M954.74 579.2v3M954.74 868.4v-3M983.7 579.2v3M983.7 868.4v-3M1012.66 579.2v3M1012.66 868.4v-3M1041.62 579.2v3M1041.62 868.4v-3M1070.58 579.2v3M1070.58 868.4v-3M1099.54 579.2v3M1099.54 868.4v-3M1128.5 579.2v3M1128.5 868.4v-3M1157.46 579.2v3M1157.46 868.4v-3M1186.42 579.2v3M1186.42 868.4v-3M1200.9 593.66h-3M911.3 593.66h3M1200.9 622.58h-3M911.3 622.58h3M1200.9 651.5h-3M911.3 651.5h3M1200.9 680.42h-3M911.3 680.42h3M1200.9 709.34h-3M911.3 709.34h3M1200.9 738.26h-3M911.3 738.26h3M1200.9 767.18h-3M911.3 767.18h3M1200.9 796.1h-3M911.3 796.1h3M1200.9 825.02h-3M911.3 825.02h3M1200.9 853.94h-3M911.3 853.94h3" stroke="#6a6670" stroke-width="0.9" fill="none"/>
<rect x="911.3" y="579.2" width="289.6" height="146.2" fill="#242223"/>
<rect x="1054.3" y="725.4" width="3.8" height="143" fill="#231f20"/>
<text x="986.4" y="648.5" font-size="24.5" fill="#fff" textLength="144.4" lengthAdjust="spacingAndGlyphs">No “L” choice</text>
<text x="935" y="679.5" font-size="24.5" fill="#fff" textLength="242.4" lengthAdjust="spacingAndGlyphs">for previous trial ID 1-5</text>
<g shape-rendering="crispEdges">
<rect x="1359.3" y="723.8" width="29.6" height="29.52" fill="#8268a8"/>
<rect x="1388.3" y="723.8" width="29.6" height="29.52" fill="#a882bc"/>
<rect x="1417.3" y="723.8" width="29.6" height="29.52" fill="#736096"/>
<rect x="1446.3" y="723.8" width="29.6" height="29.52" fill="#b692c4"/>
<rect x="1475.3" y="723.8" width="29.6" height="29.52" fill="#b692c4"/>
<rect x="1504.3" y="723.8" width="29.6" height="29.52" fill="#e2d2e8"/>
<rect x="1533.3" y="723.8" width="29.6" height="29.52" fill="#eee6f1"/>
<rect x="1562.3" y="723.8" width="29.6" height="29.52" fill="#e2d2e8"/>
<rect x="1591.3" y="723.8" width="29.6" height="29.52" fill="#eee6f1"/>
<rect x="1620.3" y="723.8" width="29" height="29.52" fill="#f7f3f8"/>
<rect x="1359.3" y="752.72" width="29.6" height="29.52" fill="#655a84"/>
<rect x="1388.3" y="752.72" width="29.6" height="29.52" fill="#736096"/>
<rect x="1417.3" y="752.72" width="29.6" height="29.52" fill="#8268a8"/>
<rect x="1446.3" y="752.72" width="29.6" height="29.52" fill="#a882bc"/>
<rect x="1475.3" y="752.72" width="29.6" height="29.52" fill="#b692c4"/>
<rect x="1504.3" y="752.72" width="29.6" height="29.52" fill="#a882bc"/>
<rect x="1533.3" y="752.72" width="29.6" height="29.52" fill="#c6a8d2"/>
<rect x="1562.3" y="752.72" width="29.6" height="29.52" fill="#e2d2e8"/>
<rect x="1591.3" y="752.72" width="29.6" height="29.52" fill="#eee6f1"/>
<rect x="1620.3" y="752.72" width="29" height="29.52" fill="#e2d2e8"/>
<rect x="1359.3" y="781.64" width="29.6" height="29.52" fill="#4b4d60"/>
<rect x="1388.3" y="781.64" width="29.6" height="29.52" fill="#4b4d60"/>
<rect x="1417.3" y="781.64" width="29.6" height="29.52" fill="#a882bc"/>
<rect x="1446.3" y="781.64" width="29.6" height="29.52" fill="#8268a8"/>
<rect x="1475.3" y="781.64" width="29.6" height="29.52" fill="#c6a8d2"/>
<rect x="1504.3" y="781.64" width="29.6" height="29.52" fill="#c6a8d2"/>
<rect x="1533.3" y="781.64" width="29.6" height="29.52" fill="#b692c4"/>
<rect x="1562.3" y="781.64" width="29.6" height="29.52" fill="#ffffff"/>
<rect x="1591.3" y="781.64" width="29.6" height="29.52" fill="#eee6f1"/>
<rect x="1620.3" y="781.64" width="29" height="29.52" fill="#eee6f1"/>
<rect x="1359.3" y="810.56" width="29.6" height="29.52" fill="#575270"/>
<rect x="1388.3" y="810.56" width="29.6" height="29.52" fill="#374342"/>
<rect x="1417.3" y="810.56" width="29.6" height="29.52" fill="#2c3c33"/>
<rect x="1446.3" y="810.56" width="29.6" height="29.52" fill="#c6a8d2"/>
<rect x="1475.3" y="810.56" width="29.6" height="29.52" fill="#4b4d60"/>
<rect x="1504.3" y="810.56" width="29.6" height="29.52" fill="#eee6f1"/>
<rect x="1533.3" y="810.56" width="29.6" height="29.52" fill="#b692c4"/>
<rect x="1562.3" y="810.56" width="29.6" height="29.52" fill="#b692c4"/>
<rect x="1591.3" y="810.56" width="29.6" height="29.52" fill="#eee6f1"/>
<rect x="1620.3" y="810.56" width="29" height="29.52" fill="#eee6f1"/>
<rect x="1359.3" y="839.48" width="29.6" height="28.92" fill="#655a84"/>
<rect x="1388.3" y="839.48" width="29.6" height="28.92" fill="#3f4850"/>
<rect x="1417.3" y="839.48" width="29.6" height="28.92" fill="#374342"/>
<rect x="1446.3" y="839.48" width="29.6" height="28.92" fill="#8268a8"/>
<rect x="1475.3" y="839.48" width="29.6" height="28.92" fill="#8268a8"/>
<rect x="1504.3" y="839.48" width="29.6" height="28.92" fill="#b692c4"/>
<rect x="1533.3" y="839.48" width="29.6" height="28.92" fill="#b692c4"/>
<rect x="1562.3" y="839.48" width="29.6" height="28.92" fill="#ffffff"/>
<rect x="1591.3" y="839.48" width="29.6" height="28.92" fill="#c6a8d2"/>
<rect x="1620.3" y="839.48" width="29" height="28.92" fill="#b692c4"/>
</g>
<rect x="1359.5" y="579.5" width="289" height="288" fill="none" stroke="#7a7680" stroke-width="1"/>
<path d="M1373.8 579.2v3M1373.8 868.4v-3M1402.8 579.2v3M1402.8 868.4v-3M1431.8 579.2v3M1431.8 868.4v-3M1460.8 579.2v3M1460.8 868.4v-3M1489.8 579.2v3M1489.8 868.4v-3M1518.8 579.2v3M1518.8 868.4v-3M1547.8 579.2v3M1547.8 868.4v-3M1576.8 579.2v3M1576.8 868.4v-3M1605.8 579.2v3M1605.8 868.4v-3M1634.8 579.2v3M1634.8 868.4v-3M1649.3 593.66h-3M1359.3 593.66h3M1649.3 622.58h-3M1359.3 622.58h3M1649.3 651.5h-3M1359.3 651.5h3M1649.3 680.42h-3M1359.3 680.42h3M1649.3 709.34h-3M1359.3 709.34h3M1649.3 738.26h-3M1359.3 738.26h3M1649.3 767.18h-3M1359.3 767.18h3M1649.3 796.1h-3M1359.3 796.1h3M1649.3 825.02h-3M1359.3 825.02h3M1649.3 853.94h-3M1359.3 853.94h3" stroke="#6a6670" stroke-width="0.9" fill="none"/>
<rect x="1359.3" y="579.2" width="290" height="146.2" fill="#242223"/>
<rect x="1502.5" y="725.4" width="3.8" height="143" fill="#231f20"/>
<text x="1429.5" y="648.5" font-size="24.5" fill="#fff" textLength="148.6" lengthAdjust="spacingAndGlyphs">No “R” choice</text>
<text x="1380.2" y="679.5" font-size="24.5" fill="#fff" textLength="242.4" lengthAdjust="spacingAndGlyphs">for previous trial ID 1-5</text>
<g shape-rendering="crispEdges">
<rect x="1703.7" y="579.2" width="29.53" height="29.52" fill="#736096"/>
<rect x="1732.63" y="579.2" width="29.53" height="29.52" fill="#a882bc"/>
<rect x="1761.56" y="579.2" width="29.53" height="29.52" fill="#736096"/>
<rect x="1790.49" y="579.2" width="29.53" height="29.52" fill="#d4bedf"/>
<rect x="1819.42" y="579.2" width="29.53" height="29.52" fill="#b692c4"/>
<rect x="1848.35" y="579.2" width="29.53" height="29.52" fill="#e2d2e8"/>
<rect x="1877.28" y="579.2" width="29.53" height="29.52" fill="#e2d2e8"/>
<rect x="1906.21" y="579.2" width="29.53" height="29.52" fill="#d4bedf"/>
<rect x="1935.14" y="579.2" width="29.53" height="29.52" fill="#eee6f1"/>
<rect x="1964.07" y="579.2" width="28.93" height="29.52" fill="#e2d2e8"/>
<rect x="1703.7" y="608.12" width="29.53" height="29.52" fill="#374342"/>
<rect x="1732.63" y="608.12" width="29.53" height="29.52" fill="#374342"/>
<rect x="1761.56" y="608.12" width="29.53" height="29.52" fill="#a882bc"/>
<rect x="1790.49" y="608.12" width="29.53" height="29.52" fill="#a882bc"/>
<rect x="1819.42" y="608.12" width="29.53" height="29.52" fill="#a882bc"/>
<rect x="1848.35" y="608.12" width="29.53" height="29.52" fill="#e2d2e8"/>
<rect x="1877.28" y="608.12" width="29.53" height="29.52" fill="#e2d2e8"/>
<rect x="1906.21" y="608.12" width="29.53" height="29.52" fill="#d4bedf"/>
<rect x="1935.14" y="608.12" width="29.53" height="29.52" fill="#eee6f1"/>
<rect x="1964.07" y="608.12" width="28.93" height="29.52" fill="#d4bedf"/>
<rect x="1703.7" y="637.04" width="29.53" height="29.52" fill="#3f4850"/>
<rect x="1732.63" y="637.04" width="29.53" height="29.52" fill="#a882bc"/>
<rect x="1761.56" y="637.04" width="29.53" height="29.52" fill="#655a84"/>
<rect x="1790.49" y="637.04" width="29.53" height="29.52" fill="#b692c4"/>
<rect x="1819.42" y="637.04" width="29.53" height="29.52" fill="#a882bc"/>
<rect x="1848.35" y="637.04" width="29.53" height="29.52" fill="#c6a8d2"/>
<rect x="1877.28" y="637.04" width="29.53" height="29.52" fill="#d4bedf"/>
<rect x="1906.21" y="637.04" width="29.53" height="29.52" fill="#e2d2e8"/>
<rect x="1935.14" y="637.04" width="29.53" height="29.52" fill="#eee6f1"/>
<rect x="1964.07" y="637.04" width="28.93" height="29.52" fill="#f7f3f8"/>
<rect x="1703.7" y="665.96" width="29.53" height="29.52" fill="#374342"/>
<rect x="1732.63" y="665.96" width="29.53" height="29.52" fill="#3f4850"/>
<rect x="1761.56" y="665.96" width="29.53" height="29.52" fill="#3f4850"/>
<rect x="1790.49" y="665.96" width="29.53" height="29.52" fill="#9673b4"/>
<rect x="1819.42" y="665.96" width="29.53" height="29.52" fill="#736096"/>
<rect x="1848.35" y="665.96" width="29.53" height="29.52" fill="#a882bc"/>
<rect x="1877.28" y="665.96" width="29.53" height="29.52" fill="#b692c4"/>
<rect x="1906.21" y="665.96" width="29.53" height="29.52" fill="#e2d2e8"/>
<rect x="1935.14" y="665.96" width="29.53" height="29.52" fill="#eee6f1"/>
<rect x="1964.07" y="665.96" width="28.93" height="29.52" fill="#e2d2e8"/>
<rect x="1703.7" y="694.88" width="29.53" height="29.52" fill="#575270"/>
<rect x="1732.63" y="694.88" width="29.53" height="29.52" fill="#4b4d60"/>
<rect x="1761.56" y="694.88" width="29.53" height="29.52" fill="#736096"/>
<rect x="1790.49" y="694.88" width="29.53" height="29.52" fill="#8268a8"/>
<rect x="1819.42" y="694.88" width="29.53" height="29.52" fill="#9673b4"/>
<rect x="1848.35" y="694.88" width="29.53" height="29.52" fill="#a882bc"/>
<rect x="1877.28" y="694.88" width="29.53" height="29.52" fill="#d4bedf"/>
<rect x="1906.21" y="694.88" width="29.53" height="29.52" fill="#e2d2e8"/>
<rect x="1935.14" y="694.88" width="29.53" height="29.52" fill="#d4bedf"/>
<rect x="1964.07" y="694.88" width="28.93" height="29.52" fill="#f7f3f8"/>
</g>
<rect x="1703.5" y="579.5" width="289" height="288" fill="none" stroke="#7a7680" stroke-width="1"/>
<path d="M1718.16 579.2v3M1718.16 868.4v-3M1747.1 579.2v3M1747.1 868.4v-3M1776.03 579.2v3M1776.03 868.4v-3M1804.95 579.2v3M1804.95 868.4v-3M1833.88 579.2v3M1833.88 868.4v-3M1862.82 579.2v3M1862.82 868.4v-3M1891.75 579.2v3M1891.75 868.4v-3M1920.67 579.2v3M1920.67 868.4v-3M1949.61 579.2v3M1949.61 868.4v-3M1978.54 579.2v3M1978.54 868.4v-3M1993 593.66h-3M1703.7 593.66h3M1993 622.58h-3M1703.7 622.58h3M1993 651.5h-3M1703.7 651.5h3M1993 680.42h-3M1703.7 680.42h3M1993 709.34h-3M1703.7 709.34h3M1993 738.26h-3M1703.7 738.26h3M1993 767.18h-3M1703.7 767.18h3M1993 796.1h-3M1703.7 796.1h3M1993 825.02h-3M1703.7 825.02h3M1993 853.94h-3M1703.7 853.94h3" stroke="#6a6670" stroke-width="0.9" fill="none"/>
<rect x="1703.7" y="722.4" width="289.3" height="146.3" fill="#242223"/>
<rect x="1846.8" y="579.2" width="3.8" height="143.2" fill="#231f20"/>
<text x="1778" y="786.3" font-size="24.5" fill="#fff" textLength="145.4" lengthAdjust="spacingAndGlyphs">No “L” choice</text>
<text x="1720.7" y="817.1" font-size="24.5" fill="#fff" textLength="255.3" lengthAdjust="spacingAndGlyphs">for previous trial ID 6-10</text>
<g shape-rendering="crispEdges">
<rect x="110" y="1065.2" width="21.27" height="21.29" fill="#9673b4"/>
<rect x="130.67" y="1065.2" width="21.27" height="21.29" fill="#8268a8"/>
<rect x="151.34" y="1065.2" width="21.27" height="21.29" fill="#b692c4"/>
<rect x="172.01" y="1065.2" width="21.27" height="21.29" fill="#a882bc"/>
<rect x="192.69" y="1065.2" width="21.27" height="21.29" fill="#a882bc"/>
<rect x="213.36" y="1065.2" width="21.27" height="21.29" fill="#d4bedf"/>
<rect x="234.03" y="1065.2" width="21.27" height="21.29" fill="#c6a8d2"/>
<rect x="254.7" y="1065.2" width="21.27" height="21.29" fill="#c6a8d2"/>
<rect x="275.37" y="1065.2" width="21.27" height="21.29" fill="#c6a8d2"/>
<rect x="296.04" y="1065.2" width="21.27" height="21.29" fill="#d4bedf"/>
<rect x="316.71" y="1065.2" width="21.27" height="21.29" fill="#d4bedf"/>
<rect x="337.39" y="1065.2" width="21.27" height="21.29" fill="#f7f3f8"/>
<rect x="358.06" y="1065.2" width="21.27" height="21.29" fill="#f7f3f8"/>
<rect x="378.73" y="1065.2" width="20.67" height="21.29" fill="#f7f3f8"/>
<rect x="110" y="1085.89" width="21.27" height="21.29" fill="#575270"/>
<rect x="130.67" y="1085.89" width="21.27" height="21.29" fill="#9673b4"/>
<rect x="151.34" y="1085.89" width="21.27" height="21.29" fill="#9673b4"/>
<rect x="172.01" y="1085.89" width="21.27" height="21.29" fill="#9673b4"/>
<rect x="192.69" y="1085.89" width="21.27" height="21.29" fill="#d4bedf"/>
<rect x="213.36" y="1085.89" width="21.27" height="21.29" fill="#b692c4"/>
<rect x="234.03" y="1085.89" width="21.27" height="21.29" fill="#c6a8d2"/>
<rect x="254.7" y="1085.89" width="21.27" height="21.29" fill="#9673b4"/>
<rect x="275.37" y="1085.89" width="21.27" height="21.29" fill="#a882bc"/>
<rect x="296.04" y="1085.89" width="21.27" height="21.29" fill="#d4bedf"/>
<rect x="316.71" y="1085.89" width="21.27" height="21.29" fill="#d4bedf"/>
<rect x="337.39" y="1085.89" width="21.27" height="21.29" fill="#eee6f1"/>
<rect x="358.06" y="1085.89" width="21.27" height="21.29" fill="#ffffff"/>
<rect x="378.73" y="1085.89" width="20.67" height="21.29" fill="#ffffff"/>
<rect x="110" y="1106.57" width="21.27" height="21.29" fill="#736096"/>
<rect x="130.67" y="1106.57" width="21.27" height="21.29" fill="#736096"/>
<rect x="151.34" y="1106.57" width="21.27" height="21.29" fill="#736096"/>
<rect x="172.01" y="1106.57" width="21.27" height="21.29" fill="#9673b4"/>
<rect x="192.69" y="1106.57" width="21.27" height="21.29" fill="#d4bedf"/>
<rect x="213.36" y="1106.57" width="21.27" height="21.29" fill="#b692c4"/>
<rect x="234.03" y="1106.57" width="21.27" height="21.29" fill="#b692c4"/>
<rect x="254.7" y="1106.57" width="21.27" height="21.29" fill="#9673b4"/>
<rect x="275.37" y="1106.57" width="21.27" height="21.29" fill="#c6a8d2"/>
<rect x="296.04" y="1106.57" width="21.27" height="21.29" fill="#e2d2e8"/>
<rect x="316.71" y="1106.57" width="21.27" height="21.29" fill="#e2d2e8"/>
<rect x="337.39" y="1106.57" width="21.27" height="21.29" fill="#f7f3f8"/>
<rect x="358.06" y="1106.57" width="21.27" height="21.29" fill="#e2d2e8"/>
<rect x="378.73" y="1106.57" width="20.67" height="21.29" fill="#ffffff"/>
<rect x="110" y="1127.26" width="21.27" height="21.29" fill="#575270"/>
<rect x="130.67" y="1127.26" width="21.27" height="21.29" fill="#4b4d60"/>
<rect x="151.34" y="1127.26" width="21.27" height="21.29" fill="#9673b4"/>
<rect x="172.01" y="1127.26" width="21.27" height="21.29" fill="#9673b4"/>
<rect x="192.69" y="1127.26" width="21.27" height="21.29" fill="#736096"/>
<rect x="213.36" y="1127.26" width="21.27" height="21.29" fill="#b692c4"/>
<rect x="234.03" y="1127.26" width="21.27" height="21.29" fill="#e2d2e8"/>
<rect x="254.7" y="1127.26" width="21.27" height="21.29" fill="#8268a8"/>
<rect x="275.37" y="1127.26" width="21.27" height="21.29" fill="#9673b4"/>
<rect x="296.04" y="1127.26" width="21.27" height="21.29" fill="#d4bedf"/>
<rect x="316.71" y="1127.26" width="21.27" height="21.29" fill="#d4bedf"/>
<rect x="337.39" y="1127.26" width="21.27" height="21.29" fill="#e2d2e8"/>
<rect x="358.06" y="1127.26" width="21.27" height="21.29" fill="#eee6f1"/>
<rect x="378.73" y="1127.26" width="20.67" height="21.29" fill="#e2d2e8"/>
<rect x="110" y="1147.94" width="21.27" height="21.29" fill="#736096"/>
<rect x="130.67" y="1147.94" width="21.27" height="21.29" fill="#655a84"/>
<rect x="151.34" y="1147.94" width="21.27" height="21.29" fill="#9673b4"/>
<rect x="172.01" y="1147.94" width="21.27" height="21.29" fill="#736096"/>
<rect x="192.69" y="1147.94" width="21.27" height="21.29" fill="#b692c4"/>
<rect x="213.36" y="1147.94" width="21.27" height="21.29" fill="#b692c4"/>
<rect x="234.03" y="1147.94" width="21.27" height="21.29" fill="#b692c4"/>
<rect x="254.7" y="1147.94" width="21.27" height="21.29" fill="#8268a8"/>
<rect x="275.37" y="1147.94" width="21.27" height="21.29" fill="#9673b4"/>
<rect x="296.04" y="1147.94" width="21.27" height="21.29" fill="#a882bc"/>
<rect x="316.71" y="1147.94" width="21.27" height="21.29" fill="#d4bedf"/>
<rect x="337.39" y="1147.94" width="21.27" height="21.29" fill="#eee6f1"/>
<rect x="358.06" y="1147.94" width="21.27" height="21.29" fill="#ffffff"/>
<rect x="378.73" y="1147.94" width="20.67" height="21.29" fill="#eee6f1"/>
<rect x="110" y="1168.63" width="21.27" height="21.29" fill="#736096"/>
<rect x="130.67" y="1168.63" width="21.27" height="21.29" fill="#374342"/>
<rect x="151.34" y="1168.63" width="21.27" height="21.29" fill="#736096"/>
<rect x="172.01" y="1168.63" width="21.27" height="21.29" fill="#575270"/>
<rect x="192.69" y="1168.63" width="21.27" height="21.29" fill="#9673b4"/>
<rect x="213.36" y="1168.63" width="21.27" height="21.29" fill="#a882bc"/>
<rect x="234.03" y="1168.63" width="21.27" height="21.29" fill="#b692c4"/>
<rect x="254.7" y="1168.63" width="21.27" height="21.29" fill="#8268a8"/>
<rect x="275.37" y="1168.63" width="21.27" height="21.29" fill="#9673b4"/>
<rect x="296.04" y="1168.63" width="21.27" height="21.29" fill="#a882bc"/>
<rect x="316.71" y="1168.63" width="21.27" height="21.29" fill="#d4bedf"/>
<rect x="337.39" y="1168.63" width="21.27" height="21.29" fill="#c6a8d2"/>
<rect x="358.06" y="1168.63" width="21.27" height="21.29" fill="#f7f3f8"/>
<rect x="378.73" y="1168.63" width="20.67" height="21.29" fill="#ffffff"/>
<rect x="110" y="1189.31" width="21.27" height="21.29" fill="#736096"/>
<rect x="130.67" y="1189.31" width="21.27" height="21.29" fill="#736096"/>
<rect x="151.34" y="1189.31" width="21.27" height="21.29" fill="#655a84"/>
<rect x="172.01" y="1189.31" width="21.27" height="21.29" fill="#655a84"/>
<rect x="192.69" y="1189.31" width="21.27" height="21.29" fill="#655a84"/>
<rect x="213.36" y="1189.31" width="21.27" height="21.29" fill="#b692c4"/>
<rect x="234.03" y="1189.31" width="21.27" height="21.29" fill="#b692c4"/>
<rect x="254.7" y="1189.31" width="21.27" height="21.29" fill="#736096"/>
<rect x="275.37" y="1189.31" width="21.27" height="21.29" fill="#736096"/>
<rect x="296.04" y="1189.31" width="21.27" height="21.29" fill="#b692c4"/>
<rect x="316.71" y="1189.31" width="21.27" height="21.29" fill="#a882bc"/>
<rect x="337.39" y="1189.31" width="21.27" height="21.29" fill="#e2d2e8"/>
<rect x="358.06" y="1189.31" width="21.27" height="21.29" fill="#eee6f1"/>
<rect x="378.73" y="1189.31" width="20.67" height="21.29" fill="#ffffff"/>
<rect x="110" y="1210" width="21.27" height="21.29" fill="#9673b4"/>
<rect x="130.67" y="1210" width="21.27" height="21.29" fill="#9673b4"/>
<rect x="151.34" y="1210" width="21.27" height="21.29" fill="#a882bc"/>
<rect x="172.01" y="1210" width="21.27" height="21.29" fill="#c6a8d2"/>
<rect x="192.69" y="1210" width="21.27" height="21.29" fill="#d4bedf"/>
<rect x="213.36" y="1210" width="21.27" height="21.29" fill="#c6a8d2"/>
<rect x="234.03" y="1210" width="21.27" height="21.29" fill="#c6a8d2"/>
<rect x="254.7" y="1210" width="21.27" height="21.29" fill="#c6a8d2"/>
<rect x="275.37" y="1210" width="21.27" height="21.29" fill="#e2d2e8"/>
<rect x="296.04" y="1210" width="21.27" height="21.29" fill="#d4bedf"/>
<rect x="316.71" y="1210" width="21.27" height="21.29" fill="#f7f3f8"/>
<rect x="337.39" y="1210" width="21.27" height="21.29" fill="#f7f3f8"/>
<rect x="358.06" y="1210" width="21.27" height="21.29" fill="#eee6f1"/>
<rect x="378.73" y="1210" width="20.67" height="21.29" fill="#f7f3f8"/>
<rect x="110" y="1230.69" width="21.27" height="21.29" fill="#8268a8"/>
<rect x="130.67" y="1230.69" width="21.27" height="21.29" fill="#736096"/>
<rect x="151.34" y="1230.69" width="21.27" height="21.29" fill="#b692c4"/>
<rect x="172.01" y="1230.69" width="21.27" height="21.29" fill="#d4bedf"/>
<rect x="192.69" y="1230.69" width="21.27" height="21.29" fill="#c6a8d2"/>
<rect x="213.36" y="1230.69" width="21.27" height="21.29" fill="#d4bedf"/>
<rect x="234.03" y="1230.69" width="21.27" height="21.29" fill="#d4bedf"/>
<rect x="254.7" y="1230.69" width="21.27" height="21.29" fill="#a882bc"/>
<rect x="275.37" y="1230.69" width="21.27" height="21.29" fill="#b692c4"/>
<rect x="296.04" y="1230.69" width="21.27" height="21.29" fill="#eee6f1"/>
<rect x="316.71" y="1230.69" width="21.27" height="21.29" fill="#f7f3f8"/>
<rect x="337.39" y="1230.69" width="21.27" height="21.29" fill="#ffffff"/>
<rect x="358.06" y="1230.69" width="21.27" height="21.29" fill="#ffffff"/>
<rect x="378.73" y="1230.69" width="20.67" height="21.29" fill="#ffffff"/>
<rect x="110" y="1251.37" width="21.27" height="21.29" fill="#736096"/>
<rect x="130.67" y="1251.37" width="21.27" height="21.29" fill="#736096"/>
<rect x="151.34" y="1251.37" width="21.27" height="21.29" fill="#736096"/>
<rect x="172.01" y="1251.37" width="21.27" height="21.29" fill="#b692c4"/>
<rect x="192.69" y="1251.37" width="21.27" height="21.29" fill="#c6a8d2"/>
<rect x="213.36" y="1251.37" width="21.27" height="21.29" fill="#c6a8d2"/>
<rect x="234.03" y="1251.37" width="21.27" height="21.29" fill="#c6a8d2"/>
<rect x="254.7" y="1251.37" width="21.27" height="21.29" fill="#a882bc"/>
<rect x="275.37" y="1251.37" width="21.27" height="21.29" fill="#c6a8d2"/>
<rect x="296.04" y="1251.37" width="21.27" height="21.29" fill="#b692c4"/>
<rect x="316.71" y="1251.37" width="21.27" height="21.29" fill="#e2d2e8"/>
<rect x="337.39" y="1251.37" width="21.27" height="21.29" fill="#f7f3f8"/>
<rect x="358.06" y="1251.37" width="21.27" height="21.29" fill="#eee6f1"/>
<rect x="378.73" y="1251.37" width="20.67" height="21.29" fill="#ffffff"/>
<rect x="110" y="1272.06" width="21.27" height="21.29" fill="#655a84"/>
<rect x="130.67" y="1272.06" width="21.27" height="21.29" fill="#736096"/>
<rect x="151.34" y="1272.06" width="21.27" height="21.29" fill="#9673b4"/>
<rect x="172.01" y="1272.06" width="21.27" height="21.29" fill="#9673b4"/>
<rect x="192.69" y="1272.06" width="21.27" height="21.29" fill="#9673b4"/>
<rect x="213.36" y="1272.06" width="21.27" height="21.29" fill="#b692c4"/>
<rect x="234.03" y="1272.06" width="21.27" height="21.29" fill="#b692c4"/>
<rect x="254.7" y="1272.06" width="21.27" height="21.29" fill="#b692c4"/>
<rect x="275.37" y="1272.06" width="21.27" height="21.29" fill="#a882bc"/>
<rect x="296.04" y="1272.06" width="21.27" height="21.29" fill="#d4bedf"/>
<rect x="316.71" y="1272.06" width="21.27" height="21.29" fill="#eee6f1"/>
<rect x="337.39" y="1272.06" width="21.27" height="21.29" fill="#f7f3f8"/>
<rect x="358.06" y="1272.06" width="21.27" height="21.29" fill="#f7f3f8"/>
<rect x="378.73" y="1272.06" width="20.67" height="21.29" fill="#ffffff"/>
<rect x="110" y="1292.74" width="21.27" height="21.29" fill="#655a84"/>
<rect x="130.67" y="1292.74" width="21.27" height="21.29" fill="#736096"/>
<rect x="151.34" y="1292.74" width="21.27" height="21.29" fill="#736096"/>
<rect x="172.01" y="1292.74" width="21.27" height="21.29" fill="#736096"/>
<rect x="192.69" y="1292.74" width="21.27" height="21.29" fill="#9673b4"/>
<rect x="213.36" y="1292.74" width="21.27" height="21.29" fill="#c6a8d2"/>
<rect x="234.03" y="1292.74" width="21.27" height="21.29" fill="#c6a8d2"/>
<rect x="254.7" y="1292.74" width="21.27" height="21.29" fill="#9673b4"/>
<rect x="275.37" y="1292.74" width="21.27" height="21.29" fill="#a882bc"/>
<rect x="296.04" y="1292.74" width="21.27" height="21.29" fill="#b692c4"/>
<rect x="316.71" y="1292.74" width="21.27" height="21.29" fill="#d4bedf"/>
<rect x="337.39" y="1292.74" width="21.27" height="21.29" fill="#f7f3f8"/>
<rect x="358.06" y="1292.74" width="21.27" height="21.29" fill="#ffffff"/>
<rect x="378.73" y="1292.74" width="20.67" height="21.29" fill="#ffffff"/>
<rect x="110" y="1313.43" width="21.27" height="21.29" fill="#575270"/>
<rect x="130.67" y="1313.43" width="21.27" height="21.29" fill="#736096"/>
<rect x="151.34" y="1313.43" width="21.27" height="21.29" fill="#a882bc"/>
<rect x="172.01" y="1313.43" width="21.27" height="21.29" fill="#736096"/>
<rect x="192.69" y="1313.43" width="21.27" height="21.29" fill="#9673b4"/>
<rect x="213.36" y="1313.43" width="21.27" height="21.29" fill="#b692c4"/>
<rect x="234.03" y="1313.43" width="21.27" height="21.29" fill="#b692c4"/>
<rect x="254.7" y="1313.43" width="21.27" height="21.29" fill="#655a84"/>
<rect x="275.37" y="1313.43" width="21.27" height="21.29" fill="#a882bc"/>
<rect x="296.04" y="1313.43" width="21.27" height="21.29" fill="#a882bc"/>
<rect x="316.71" y="1313.43" width="21.27" height="21.29" fill="#b692c4"/>
<rect x="337.39" y="1313.43" width="21.27" height="21.29" fill="#d4bedf"/>
<rect x="358.06" y="1313.43" width="21.27" height="21.29" fill="#eee6f1"/>
<rect x="378.73" y="1313.43" width="20.67" height="21.29" fill="#ffffff"/>
<rect x="110" y="1334.11" width="21.27" height="20.69" fill="#4b4d60"/>
<rect x="130.67" y="1334.11" width="21.27" height="20.69" fill="#736096"/>
<rect x="151.34" y="1334.11" width="21.27" height="20.69" fill="#736096"/>
<rect x="172.01" y="1334.11" width="21.27" height="20.69" fill="#9673b4"/>
<rect x="192.69" y="1334.11" width="21.27" height="20.69" fill="#8268a8"/>
<rect x="213.36" y="1334.11" width="21.27" height="20.69" fill="#a882bc"/>
<rect x="234.03" y="1334.11" width="21.27" height="20.69" fill="#b692c4"/>
<rect x="254.7" y="1334.11" width="21.27" height="20.69" fill="#9673b4"/>
<rect x="275.37" y="1334.11" width="21.27" height="20.69" fill="#8268a8"/>
<rect x="296.04" y="1334.11" width="21.27" height="20.69" fill="#b692c4"/>
<rect x="316.71" y="1334.11" width="21.27" height="20.69" fill="#b692c4"/>
<rect x="337.39" y="1334.11" width="21.27" height="20.69" fill="#e2d2e8"/>
<rect x="358.06" y="1334.11" width="21.27" height="20.69" fill="#ffffff"/>
<rect x="378.73" y="1334.11" width="20.67" height="20.69" fill="#ffffff"/>
</g>
<rect x="110.5" y="1065.5" width="288" height="288" fill="none" stroke="#7a7680" stroke-width="1"/>
<path d="M120.34 1065.2v3M120.34 1354.8v-3M141.01 1065.2v3M141.01 1354.8v-3M161.68 1065.2v3M161.68 1354.8v-3M182.35 1065.2v3M182.35 1354.8v-3M203.02 1065.2v3M203.02 1354.8v-3M223.69 1065.2v3M223.69 1354.8v-3M244.36 1065.2v3M244.36 1354.8v-3M265.04 1065.2v3M265.04 1354.8v-3M285.71 1065.2v3M285.71 1354.8v-3M306.38 1065.2v3M306.38 1354.8v-3M327.05 1065.2v3M327.05 1354.8v-3M347.72 1065.2v3M347.72 1354.8v-3M368.39 1065.2v3M368.39 1354.8v-3M389.06 1065.2v3M389.06 1354.8v-3M399.4 1075.54h-3M110 1075.54h3M399.4 1096.23h-3M110 1096.23h3M399.4 1116.91h-3M110 1116.91h3M399.4 1137.6h-3M110 1137.6h3M399.4 1158.29h-3M110 1158.29h3M399.4 1178.97h-3M110 1178.97h3M399.4 1199.66h-3M110 1199.66h3M399.4 1220.34h-3M110 1220.34h3M399.4 1241.03h-3M110 1241.03h3M399.4 1261.71h-3M110 1261.71h3M399.4 1282.4h-3M110 1282.4h3M399.4 1303.09h-3M110 1303.09h3M399.4 1323.77h-3M110 1323.77h3M399.4 1344.46h-3M110 1344.46h3" stroke="#6a6670" stroke-width="0.9" fill="none"/>
<rect x="252.7" y="1065.2" width="3.8" height="289.6" fill="#231f20"/>
<rect x="110" y="1207.7" width="289.4" height="3.8" fill="#231f20"/>
<g shape-rendering="crispEdges">
<rect x="565.8" y="1065.2" width="21.27" height="21.29" fill="#9673b4"/>
<rect x="586.47" y="1065.2" width="21.27" height="21.29" fill="#8268a8"/>
<rect x="607.14" y="1065.2" width="21.27" height="21.29" fill="#b692c4"/>
<rect x="627.81" y="1065.2" width="21.27" height="21.29" fill="#9673b4"/>
<rect x="648.49" y="1065.2" width="21.27" height="21.29" fill="#a882bc"/>
<rect x="669.16" y="1065.2" width="21.27" height="21.29" fill="#d4bedf"/>
<rect x="689.83" y="1065.2" width="21.27" height="21.29" fill="#c6a8d2"/>
<rect x="710.5" y="1065.2" width="21.27" height="21.29" fill="#c6a8d2"/>
<rect x="731.17" y="1065.2" width="21.27" height="21.29" fill="#d4bedf"/>
<rect x="751.84" y="1065.2" width="21.27" height="21.29" fill="#e2d2e8"/>
<rect x="772.51" y="1065.2" width="21.27" height="21.29" fill="#e2d2e8"/>
<rect x="793.19" y="1065.2" width="21.27" height="21.29" fill="#ffffff"/>
<rect x="813.86" y="1065.2" width="21.27" height="21.29" fill="#ffffff"/>
<rect x="834.53" y="1065.2" width="20.67" height="21.29" fill="#ffffff"/>
<rect x="565.8" y="1085.89" width="21.27" height="21.29" fill="#4b4d60"/>
<rect x="586.47" y="1085.89" width="21.27" height="21.29" fill="#9673b4"/>
<rect x="607.14" y="1085.89" width="21.27" height="21.29" fill="#736096"/>
<rect x="627.81" y="1085.89" width="21.27" height="21.29" fill="#9673b4"/>
<rect x="648.49" y="1085.89" width="21.27" height="21.29" fill="#d4bedf"/>
<rect x="669.16" y="1085.89" width="21.27" height="21.29" fill="#b692c4"/>
<rect x="689.83" y="1085.89" width="21.27" height="21.29" fill="#c6a8d2"/>
<rect x="710.5" y="1085.89" width="21.27" height="21.29" fill="#a882bc"/>
<rect x="731.17" y="1085.89" width="21.27" height="21.29" fill="#a882bc"/>
<rect x="751.84" y="1085.89" width="21.27" height="21.29" fill="#e2d2e8"/>
<rect x="772.51" y="1085.89" width="21.27" height="21.29" fill="#eee6f1"/>
<rect x="793.19" y="1085.89" width="21.27" height="21.29" fill="#f7f3f8"/>
<rect x="813.86" y="1085.89" width="21.27" height="21.29" fill="#ffffff"/>
<rect x="834.53" y="1085.89" width="20.67" height="21.29" fill="#ffffff"/>
<rect x="565.8" y="1106.57" width="21.27" height="21.29" fill="#655a84"/>
<rect x="586.47" y="1106.57" width="21.27" height="21.29" fill="#736096"/>
<rect x="607.14" y="1106.57" width="21.27" height="21.29" fill="#736096"/>
<rect x="627.81" y="1106.57" width="21.27" height="21.29" fill="#a882bc"/>
<rect x="648.49" y="1106.57" width="21.27" height="21.29" fill="#d4bedf"/>
<rect x="669.16" y="1106.57" width="21.27" height="21.29" fill="#a882bc"/>
<rect x="689.83" y="1106.57" width="21.27" height="21.29" fill="#c6a8d2"/>
<rect x="710.5" y="1106.57" width="21.27" height="21.29" fill="#a882bc"/>
<rect x="731.17" y="1106.57" width="21.27" height="21.29" fill="#a882bc"/>
<rect x="751.84" y="1106.57" width="21.27" height="21.29" fill="#eee6f1"/>
<rect x="772.51" y="1106.57" width="21.27" height="21.29" fill="#eee6f1"/>
<rect x="793.19" y="1106.57" width="21.27" height="21.29" fill="#ffffff"/>
<rect x="813.86" y="1106.57" width="21.27" height="21.29" fill="#f7f3f8"/>
<rect x="834.53" y="1106.57" width="20.67" height="21.29" fill="#ffffff"/>
<rect x="565.8" y="1127.26" width="21.27" height="21.29" fill="#655a84"/>
<rect x="586.47" y="1127.26" width="21.27" height="21.29" fill="#4b4d60"/>
<rect x="607.14" y="1127.26" width="21.27" height="21.29" fill="#9673b4"/>
<rect x="627.81" y="1127.26" width="21.27" height="21.29" fill="#9673b4"/>
<rect x="648.49" y="1127.26" width="21.27" height="21.29" fill="#736096"/>
<rect x="669.16" y="1127.26" width="21.27" height="21.29" fill="#b692c4"/>
<rect x="689.83" y="1127.26" width="21.27" height="21.29" fill="#e2d2e8"/>
<rect x="710.5" y="1127.26" width="21.27" height="21.29" fill="#a882bc"/>
<rect x="731.17" y="1127.26" width="21.27" height="21.29" fill="#9673b4"/>
<rect x="751.84" y="1127.26" width="21.27" height="21.29" fill="#d4bedf"/>
<rect x="772.51" y="1127.26" width="21.27" height="21.29" fill="#d4bedf"/>
<rect x="793.19" y="1127.26" width="21.27" height="21.29" fill="#e2d2e8"/>
<rect x="813.86" y="1127.26" width="21.27" height="21.29" fill="#eee6f1"/>
<rect x="834.53" y="1127.26" width="20.67" height="21.29" fill="#eee6f1"/>
<rect x="565.8" y="1147.94" width="21.27" height="21.29" fill="#9673b4"/>
<rect x="586.47" y="1147.94" width="21.27" height="21.29" fill="#655a84"/>
<rect x="607.14" y="1147.94" width="21.27" height="21.29" fill="#9673b4"/>
<rect x="627.81" y="1147.94" width="21.27" height="21.29" fill="#736096"/>
<rect x="648.49" y="1147.94" width="21.27" height="21.29" fill="#b692c4"/>
<rect x="669.16" y="1147.94" width="21.27" height="21.29" fill="#c6a8d2"/>
<rect x="689.83" y="1147.94" width="21.27" height="21.29" fill="#b692c4"/>
<rect x="710.5" y="1147.94" width="21.27" height="21.29" fill="#9673b4"/>
<rect x="731.17" y="1147.94" width="21.27" height="21.29" fill="#b692c4"/>
<rect x="751.84" y="1147.94" width="21.27" height="21.29" fill="#b692c4"/>
<rect x="772.51" y="1147.94" width="21.27" height="21.29" fill="#e2d2e8"/>
<rect x="793.19" y="1147.94" width="21.27" height="21.29" fill="#f7f3f8"/>
<rect x="813.86" y="1147.94" width="21.27" height="21.29" fill="#f7f3f8"/>
<rect x="834.53" y="1147.94" width="20.67" height="21.29" fill="#f7f3f8"/>
<rect x="565.8" y="1168.63" width="21.27" height="21.29" fill="#9673b4"/>
<rect x="586.47" y="1168.63" width="21.27" height="21.29" fill="#4b4d60"/>
<rect x="607.14" y="1168.63" width="21.27" height="21.29" fill="#655a84"/>
<rect x="627.81" y="1168.63" width="21.27" height="21.29" fill="#736096"/>
<rect x="648.49" y="1168.63" width="21.27" height="21.29" fill="#a882bc"/>
<rect x="669.16" y="1168.63" width="21.27" height="21.29" fill="#a882bc"/>
<rect x="689.83" y="1168.63" width="21.27" height="21.29" fill="#a882bc"/>
<rect x="710.5" y="1168.63" width="21.27" height="21.29" fill="#736096"/>
<rect x="731.17" y="1168.63" width="21.27" height="21.29" fill="#b692c4"/>
<rect x="751.84" y="1168.63" width="21.27" height="21.29" fill="#c6a8d2"/>
<rect x="772.51" y="1168.63" width="21.27" height="21.29" fill="#e2d2e8"/>
<rect x="793.19" y="1168.63" width="21.27" height="21.29" fill="#d4bedf"/>
<rect x="813.86" y="1168.63" width="21.27" height="21.29" fill="#ffffff"/>
<rect x="834.53" y="1168.63" width="20.67" height="21.29" fill="#eee6f1"/>
<rect x="565.8" y="1189.31" width="21.27" height="21.29" fill="#374342"/>
<rect x="586.47" y="1189.31" width="21.27" height="21.29" fill="#9673b4"/>
<rect x="607.14" y="1189.31" width="21.27" height="21.29" fill="#8268a8"/>
<rect x="627.81" y="1189.31" width="21.27" height="21.29" fill="#4b4d60"/>
<rect x="648.49" y="1189.31" width="21.27" height="21.29" fill="#736096"/>
<rect x="669.16" y="1189.31" width="21.27" height="21.29" fill="#a882bc"/>
<rect x="689.83" y="1189.31" width="21.27" height="21.29" fill="#b692c4"/>
<rect x="710.5" y="1189.31" width="21.27" height="21.29" fill="#8268a8"/>
<rect x="731.17" y="1189.31" width="21.27" height="21.29" fill="#a882bc"/>
<rect x="751.84" y="1189.31" width="21.27" height="21.29" fill="#b692c4"/>
<rect x="772.51" y="1189.31" width="21.27" height="21.29" fill="#a882bc"/>
<rect x="793.19" y="1189.31" width="21.27" height="21.29" fill="#eee6f1"/>
<rect x="813.86" y="1189.31" width="21.27" height="21.29" fill="#eee6f1"/>
<rect x="834.53" y="1189.31" width="20.67" height="21.29" fill="#ffffff"/>
</g>
<rect x="565.5" y="1065.5" width="289" height="288" fill="none" stroke="#7a7680" stroke-width="1"/>
<path d="M576.14 1065.2v3M576.14 1354.8v-3M596.81 1065.2v3M596.81 1354.8v-3M617.48 1065.2v3M617.48 1354.8v-3M638.15 1065.2v3M638.15 1354.8v-3M658.82 1065.2v3M658.82 1354.8v-3M679.49 1065.2v3M679.49 1354.8v-3M700.16 1065.2v3M700.16 1354.8v-3M720.84 1065.2v3M720.84 1354.8v-3M741.51 1065.2v3M741.51 1354.8v-3M762.18 1065.2v3M762.18 1354.8v-3M782.85 1065.2v3M782.85 1354.8v-3M803.52 1065.2v3M803.52 1354.8v-3M824.19 1065.2v3M824.19 1354.8v-3M844.86 1065.2v3M844.86 1354.8v-3M855.2 1075.54h-3M565.8 1075.54h3M855.2 1096.23h-3M565.8 1096.23h3M855.2 1116.91h-3M565.8 1116.91h3M855.2 1137.6h-3M565.8 1137.6h3M855.2 1158.29h-3M565.8 1158.29h3M855.2 1178.97h-3M565.8 1178.97h3M855.2 1199.66h-3M565.8 1199.66h3M855.2 1220.34h-3M565.8 1220.34h3M855.2 1241.03h-3M565.8 1241.03h3M855.2 1261.71h-3M565.8 1261.71h3M855.2 1282.4h-3M565.8 1282.4h3M855.2 1303.09h-3M565.8 1303.09h3M855.2 1323.77h-3M565.8 1323.77h3M855.2 1344.46h-3M565.8 1344.46h3" stroke="#6a6670" stroke-width="0.9" fill="none"/>
<rect x="565.8" y="1207.4" width="289.4" height="147.8" fill="#242223"/>
<rect x="708.6" y="1065.2" width="3.8" height="142.2" fill="#231f20"/>
<text x="639.7" y="1274.4" font-size="24.5" fill="#fff" textLength="150" lengthAdjust="spacingAndGlyphs">No “R” choice</text>
<text x="584" y="1305.4" font-size="24.5" fill="#fff" textLength="256" lengthAdjust="spacingAndGlyphs">for previous trial ID 8-14</text>
<g shape-rendering="crispEdges">
<rect x="913.7" y="1210" width="21.26" height="21.29" fill="#655a84"/>
<rect x="934.36" y="1210" width="21.26" height="21.29" fill="#4b4d60"/>
<rect x="955.03" y="1210" width="21.26" height="21.29" fill="#8268a8"/>
<rect x="975.69" y="1210" width="21.26" height="21.29" fill="#a882bc"/>
<rect x="996.36" y="1210" width="21.26" height="21.29" fill="#a882bc"/>
<rect x="1017.02" y="1210" width="21.26" height="21.29" fill="#9673b4"/>
<rect x="1037.69" y="1210" width="21.26" height="21.29" fill="#b692c4"/>
<rect x="1058.35" y="1210" width="21.26" height="21.29" fill="#e2d2e8"/>
<rect x="1079.01" y="1210" width="21.26" height="21.29" fill="#eee6f1"/>
<rect x="1099.68" y="1210" width="21.26" height="21.29" fill="#b692c4"/>
<rect x="1120.34" y="1210" width="21.26" height="21.29" fill="#e2d2e8"/>
<rect x="1141.01" y="1210" width="21.26" height="21.29" fill="#f7f3f8"/>
<rect x="1161.67" y="1210" width="21.26" height="21.29" fill="#eee6f1"/>
<rect x="1182.34" y="1210" width="20.66" height="21.29" fill="#ffffff"/>
<rect x="913.7" y="1230.69" width="21.26" height="21.29" fill="#a882bc"/>
<rect x="934.36" y="1230.69" width="21.26" height="21.29" fill="#736096"/>
<rect x="955.03" y="1230.69" width="21.26" height="21.29" fill="#a882bc"/>
<rect x="975.69" y="1230.69" width="21.26" height="21.29" fill="#d4bedf"/>
<rect x="996.36" y="1230.69" width="21.26" height="21.29" fill="#8268a8"/>
<rect x="1017.02" y="1230.69" width="21.26" height="21.29" fill="#b692c4"/>
<rect x="1037.69" y="1230.69" width="21.26" height="21.29" fill="#b692c4"/>
<rect x="1058.35" y="1230.69" width="21.26" height="21.29" fill="#b692c4"/>
<rect x="1079.01" y="1230.69" width="21.26" height="21.29" fill="#a882bc"/>
<rect x="1099.68" y="1230.69" width="21.26" height="21.29" fill="#ffffff"/>
<rect x="1120.34" y="1230.69" width="21.26" height="21.29" fill="#ffffff"/>
<rect x="1141.01" y="1230.69" width="21.26" height="21.29" fill="#e2d2e8"/>
<rect x="1161.67" y="1230.69" width="21.26" height="21.29" fill="#ffffff"/>
<rect x="1182.34" y="1230.69" width="20.66" height="21.29" fill="#ffffff"/>
<rect x="913.7" y="1251.37" width="21.26" height="21.29" fill="#575270"/>
<rect x="934.36" y="1251.37" width="21.26" height="21.29" fill="#736096"/>
<rect x="955.03" y="1251.37" width="21.26" height="21.29" fill="#9673b4"/>
<rect x="975.69" y="1251.37" width="21.26" height="21.29" fill="#9673b4"/>
<rect x="996.36" y="1251.37" width="21.26" height="21.29" fill="#9673b4"/>
<rect x="1017.02" y="1251.37" width="21.26" height="21.29" fill="#a882bc"/>
<rect x="1037.69" y="1251.37" width="21.26" height="21.29" fill="#b692c4"/>
<rect x="1058.35" y="1251.37" width="21.26" height="21.29" fill="#a882bc"/>
<rect x="1079.01" y="1251.37" width="21.26" height="21.29" fill="#d4bedf"/>
<rect x="1099.68" y="1251.37" width="21.26" height="21.29" fill="#d4bedf"/>
<rect x="1120.34" y="1251.37" width="21.26" height="21.29" fill="#d4bedf"/>
<rect x="1141.01" y="1251.37" width="21.26" height="21.29" fill="#eee6f1"/>
<rect x="1161.67" y="1251.37" width="21.26" height="21.29" fill="#eee6f1"/>
<rect x="1182.34" y="1251.37" width="20.66" height="21.29" fill="#ffffff"/>
<rect x="913.7" y="1272.06" width="21.26" height="21.29" fill="#655a84"/>
<rect x="934.36" y="1272.06" width="21.26" height="21.29" fill="#655a84"/>
<rect x="955.03" y="1272.06" width="21.26" height="21.29" fill="#8268a8"/>
<rect x="975.69" y="1272.06" width="21.26" height="21.29" fill="#8268a8"/>
<rect x="996.36" y="1272.06" width="21.26" height="21.29" fill="#9673b4"/>
<rect x="1017.02" y="1272.06" width="21.26" height="21.29" fill="#9673b4"/>
<rect x="1037.69" y="1272.06" width="21.26" height="21.29" fill="#a882bc"/>
<rect x="1058.35" y="1272.06" width="21.26" height="21.29" fill="#b692c4"/>
<rect x="1079.01" y="1272.06" width="21.26" height="21.29" fill="#b692c4"/>
<rect x="1099.68" y="1272.06" width="21.26" height="21.29" fill="#d4bedf"/>
<rect x="1120.34" y="1272.06" width="21.26" height="21.29" fill="#eee6f1"/>
<rect x="1141.01" y="1272.06" width="21.26" height="21.29" fill="#f7f3f8"/>
<rect x="1161.67" y="1272.06" width="21.26" height="21.29" fill="#ffffff"/>
<rect x="1182.34" y="1272.06" width="20.66" height="21.29" fill="#ffffff"/>
<rect x="913.7" y="1292.74" width="21.26" height="21.29" fill="#655a84"/>
<rect x="934.36" y="1292.74" width="21.26" height="21.29" fill="#4b4d60"/>
<rect x="955.03" y="1292.74" width="21.26" height="21.29" fill="#4b4d60"/>
<rect x="975.69" y="1292.74" width="21.26" height="21.29" fill="#655a84"/>
<rect x="996.36" y="1292.74" width="21.26" height="21.29" fill="#9673b4"/>
<rect x="1017.02" y="1292.74" width="21.26" height="21.29" fill="#b692c4"/>
<rect x="1037.69" y="1292.74" width="21.26" height="21.29" fill="#b692c4"/>
<rect x="1058.35" y="1292.74" width="21.26" height="21.29" fill="#736096"/>
<rect x="1079.01" y="1292.74" width="21.26" height="21.29" fill="#a882bc"/>
<rect x="1099.68" y="1292.74" width="21.26" height="21.29" fill="#b692c4"/>
<rect x="1120.34" y="1292.74" width="21.26" height="21.29" fill="#c6a8d2"/>
<rect x="1141.01" y="1292.74" width="21.26" height="21.29" fill="#f7f3f8"/>
<rect x="1161.67" y="1292.74" width="21.26" height="21.29" fill="#ffffff"/>
<rect x="1182.34" y="1292.74" width="20.66" height="21.29" fill="#ffffff"/>
<rect x="913.7" y="1313.43" width="21.26" height="21.29" fill="#575270"/>
<rect x="934.36" y="1313.43" width="21.26" height="21.29" fill="#4b4d60"/>
<rect x="955.03" y="1313.43" width="21.26" height="21.29" fill="#655a84"/>
<rect x="975.69" y="1313.43" width="21.26" height="21.29" fill="#655a84"/>
<rect x="996.36" y="1313.43" width="21.26" height="21.29" fill="#8268a8"/>
<rect x="1017.02" y="1313.43" width="21.26" height="21.29" fill="#b692c4"/>
<rect x="1037.69" y="1313.43" width="21.26" height="21.29" fill="#a882bc"/>
<rect x="1058.35" y="1313.43" width="21.26" height="21.29" fill="#655a84"/>
<rect x="1079.01" y="1313.43" width="21.26" height="21.29" fill="#a882bc"/>
<rect x="1099.68" y="1313.43" width="21.26" height="21.29" fill="#9673b4"/>
<rect x="1120.34" y="1313.43" width="21.26" height="21.29" fill="#a882bc"/>
<rect x="1141.01" y="1313.43" width="21.26" height="21.29" fill="#c6a8d2"/>
<rect x="1161.67" y="1313.43" width="21.26" height="21.29" fill="#e2d2e8"/>
<rect x="1182.34" y="1313.43" width="20.66" height="21.29" fill="#ffffff"/>
<rect x="913.7" y="1334.11" width="21.26" height="20.69" fill="#4b4d60"/>
<rect x="934.36" y="1334.11" width="21.26" height="20.69" fill="#575270"/>
<rect x="955.03" y="1334.11" width="21.26" height="20.69" fill="#655a84"/>
<rect x="975.69" y="1334.11" width="21.26" height="20.69" fill="#8268a8"/>
<rect x="996.36" y="1334.11" width="21.26" height="20.69" fill="#655a84"/>
<rect x="1017.02" y="1334.11" width="21.26" height="20.69" fill="#a882bc"/>
<rect x="1037.69" y="1334.11" width="21.26" height="20.69" fill="#b692c4"/>
<rect x="1058.35" y="1334.11" width="21.26" height="20.69" fill="#a882bc"/>
<rect x="1079.01" y="1334.11" width="21.26" height="20.69" fill="#a882bc"/>
<rect x="1099.68" y="1334.11" width="21.26" height="20.69" fill="#b692c4"/>
<rect x="1120.34" y="1334.11" width="21.26" height="20.69" fill="#a882bc"/>
<rect x="1141.01" y="1334.11" width="21.26" height="20.69" fill="#c6a8d2"/>
<rect x="1161.67" y="1334.11" width="21.26" height="20.69" fill="#ffffff"/>
<rect x="1182.34" y="1334.11" width="20.66" height="20.69" fill="#ffffff"/>
</g>
<rect x="913.5" y="1065.5" width="289" height="288" fill="none" stroke="#7a7680" stroke-width="1"/>
<path d="M924.03 1065.2v3M924.03 1354.8v-3M944.7 1065.2v3M944.7 1354.8v-3M965.36 1065.2v3M965.36 1354.8v-3M986.03 1065.2v3M986.03 1354.8v-3M1006.69 1065.2v3M1006.69 1354.8v-3M1027.35 1065.2v3M1027.35 1354.8v-3M1048.02 1065.2v3M1048.02 1354.8v-3M1068.68 1065.2v3M1068.68 1354.8v-3M1089.35 1065.2v3M1089.35 1354.8v-3M1110.01 1065.2v3M1110.01 1354.8v-3M1130.67 1065.2v3M1130.67 1354.8v-3M1151.34 1065.2v3M1151.34 1354.8v-3M1172 1065.2v3M1172 1354.8v-3M1192.67 1065.2v3M1192.67 1354.8v-3M1203 1075.54h-3M913.7 1075.54h3M1203 1096.23h-3M913.7 1096.23h3M1203 1116.91h-3M913.7 1116.91h3M1203 1137.6h-3M913.7 1137.6h3M1203 1158.29h-3M913.7 1158.29h3M1203 1178.97h-3M913.7 1178.97h3M1203 1199.66h-3M913.7 1199.66h3M1203 1220.34h-3M913.7 1220.34h3M1203 1241.03h-3M913.7 1241.03h3M1203 1261.71h-3M913.7 1261.71h3M1203 1282.4h-3M913.7 1282.4h3M1203 1303.09h-3M913.7 1303.09h3M1203 1323.77h-3M913.7 1323.77h3M1203 1344.46h-3M913.7 1344.46h3" stroke="#6a6670" stroke-width="0.9" fill="none"/>
<rect x="913.7" y="1065.2" width="289.3" height="145.4" fill="#242223"/>
<rect x="1056.5" y="1210.6" width="3.8" height="144.2" fill="#231f20"/>
<text x="995.6" y="1127.6" font-size="24.5" fill="#fff" textLength="142.8" lengthAdjust="spacingAndGlyphs">No “L” choice</text>
<text x="945.2" y="1158" font-size="24.5" fill="#fff" textLength="237.6" lengthAdjust="spacingAndGlyphs">for previous trial ID 1-7</text>
<g shape-rendering="crispEdges">
<rect x="1359.3" y="1209.45" width="21.31" height="21.36" fill="#8268a8"/>
<rect x="1380.01" y="1209.45" width="21.31" height="21.36" fill="#a882bc"/>
<rect x="1400.73" y="1209.45" width="21.31" height="21.36" fill="#a882bc"/>
<rect x="1421.44" y="1209.45" width="21.31" height="21.36" fill="#d4bedf"/>
<rect x="1442.16" y="1209.45" width="21.31" height="21.36" fill="#e2d2e8"/>
<rect x="1462.87" y="1209.45" width="21.31" height="21.36" fill="#c6a8d2"/>
<rect x="1483.59" y="1209.45" width="21.31" height="21.36" fill="#c6a8d2"/>
<rect x="1504.3" y="1209.45" width="21.31" height="21.36" fill="#b692c4"/>
<rect x="1525.01" y="1209.45" width="21.31" height="21.36" fill="#c6a8d2"/>
<rect x="1545.73" y="1209.45" width="21.31" height="21.36" fill="#eee6f1"/>
<rect x="1566.44" y="1209.45" width="21.31" height="21.36" fill="#ffffff"/>
<rect x="1587.16" y="1209.45" width="21.31" height="21.36" fill="#f7f3f8"/>
<rect x="1607.87" y="1209.45" width="21.31" height="21.36" fill="#eee6f1"/>
<rect x="1628.59" y="1209.45" width="20.71" height="21.36" fill="#e2d2e8"/>
<rect x="1359.3" y="1230.21" width="21.31" height="21.36" fill="#8268a8"/>
<rect x="1380.01" y="1230.21" width="21.31" height="21.36" fill="#9673b4"/>
<rect x="1400.73" y="1230.21" width="21.31" height="21.36" fill="#a882bc"/>
<rect x="1421.44" y="1230.21" width="21.31" height="21.36" fill="#d4bedf"/>
<rect x="1442.16" y="1230.21" width="21.31" height="21.36" fill="#d4bedf"/>
<rect x="1462.87" y="1230.21" width="21.31" height="21.36" fill="#e2d2e8"/>
<rect x="1483.59" y="1230.21" width="21.31" height="21.36" fill="#e2d2e8"/>
<rect x="1504.3" y="1230.21" width="21.31" height="21.36" fill="#a882bc"/>
<rect x="1525.01" y="1230.21" width="21.31" height="21.36" fill="#d4bedf"/>
<rect x="1545.73" y="1230.21" width="21.31" height="21.36" fill="#eee6f1"/>
<rect x="1566.44" y="1230.21" width="21.31" height="21.36" fill="#e2d2e8"/>
<rect x="1587.16" y="1230.21" width="21.31" height="21.36" fill="#f7f3f8"/>
<rect x="1607.87" y="1230.21" width="21.31" height="21.36" fill="#ffffff"/>
<rect x="1628.59" y="1230.21" width="20.71" height="21.36" fill="#ffffff"/>
<rect x="1359.3" y="1250.98" width="21.31" height="21.36" fill="#8268a8"/>
<rect x="1380.01" y="1250.98" width="21.31" height="21.36" fill="#9673b4"/>
<rect x="1400.73" y="1250.98" width="21.31" height="21.36" fill="#736096"/>
<rect x="1421.44" y="1250.98" width="21.31" height="21.36" fill="#c6a8d2"/>
<rect x="1442.16" y="1250.98" width="21.31" height="21.36" fill="#d4bedf"/>
<rect x="1462.87" y="1250.98" width="21.31" height="21.36" fill="#b692c4"/>
<rect x="1483.59" y="1250.98" width="21.31" height="21.36" fill="#c6a8d2"/>
<rect x="1504.3" y="1250.98" width="21.31" height="21.36" fill="#a882bc"/>
<rect x="1525.01" y="1250.98" width="21.31" height="21.36" fill="#b692c4"/>
<rect x="1545.73" y="1250.98" width="21.31" height="21.36" fill="#a882bc"/>
<rect x="1566.44" y="1250.98" width="21.31" height="21.36" fill="#f7f3f8"/>
<rect x="1587.16" y="1250.98" width="21.31" height="21.36" fill="#e2d2e8"/>
<rect x="1607.87" y="1250.98" width="21.31" height="21.36" fill="#e2d2e8"/>
<rect x="1628.59" y="1250.98" width="20.71" height="21.36" fill="#f7f3f8"/>
<rect x="1359.3" y="1271.74" width="21.31" height="21.36" fill="#9673b4"/>
<rect x="1380.01" y="1271.74" width="21.31" height="21.36" fill="#9673b4"/>
<rect x="1400.73" y="1271.74" width="21.31" height="21.36" fill="#a882bc"/>
<rect x="1421.44" y="1271.74" width="21.31" height="21.36" fill="#a882bc"/>
<rect x="1442.16" y="1271.74" width="21.31" height="21.36" fill="#9673b4"/>
<rect x="1462.87" y="1271.74" width="21.31" height="21.36" fill="#c6a8d2"/>
<rect x="1483.59" y="1271.74" width="21.31" height="21.36" fill="#c6a8d2"/>
<rect x="1504.3" y="1271.74" width="21.31" height="21.36" fill="#c6a8d2"/>
<rect x="1525.01" y="1271.74" width="21.31" height="21.36" fill="#a882bc"/>
<rect x="1545.73" y="1271.74" width="21.31" height="21.36" fill="#c6a8d2"/>
<rect x="1566.44" y="1271.74" width="21.31" height="21.36" fill="#f7f3f8"/>
<rect x="1587.16" y="1271.74" width="21.31" height="21.36" fill="#ffffff"/>
<rect x="1607.87" y="1271.74" width="21.31" height="21.36" fill="#e2d2e8"/>
<rect x="1628.59" y="1271.74" width="20.71" height="21.36" fill="#ffffff"/>
<rect x="1359.3" y="1292.51" width="21.31" height="21.36" fill="#9673b4"/>
<rect x="1380.01" y="1292.51" width="21.31" height="21.36" fill="#c6a8d2"/>
<rect x="1400.73" y="1292.51" width="21.31" height="21.36" fill="#c6a8d2"/>
<rect x="1421.44" y="1292.51" width="21.31" height="21.36" fill="#9673b4"/>
<rect x="1442.16" y="1292.51" width="21.31" height="21.36" fill="#a882bc"/>
<rect x="1462.87" y="1292.51" width="21.31" height="21.36" fill="#eee6f1"/>
<rect x="1483.59" y="1292.51" width="21.31" height="21.36" fill="#c6a8d2"/>
<rect x="1504.3" y="1292.51" width="21.31" height="21.36" fill="#a882bc"/>
<rect x="1525.01" y="1292.51" width="21.31" height="21.36" fill="#a882bc"/>
<rect x="1545.73" y="1292.51" width="21.31" height="21.36" fill="#b692c4"/>
<rect x="1566.44" y="1292.51" width="21.31" height="21.36" fill="#b692c4"/>
<rect x="1587.16" y="1292.51" width="21.31" height="21.36" fill="#e2d2e8"/>
<rect x="1607.87" y="1292.51" width="21.31" height="21.36" fill="#f7f3f8"/>
<rect x="1628.59" y="1292.51" width="20.71" height="21.36" fill="#c6a8d2"/>
<rect x="1359.3" y="1313.27" width="21.31" height="21.36" fill="#575270"/>
<rect x="1380.01" y="1313.27" width="21.31" height="21.36" fill="#b692c4"/>
<rect x="1400.73" y="1313.27" width="21.31" height="21.36" fill="#eee6f1"/>
<rect x="1421.44" y="1313.27" width="21.31" height="21.36" fill="#a882bc"/>
<rect x="1442.16" y="1313.27" width="21.31" height="21.36" fill="#c6a8d2"/>
<rect x="1462.87" y="1313.27" width="21.31" height="21.36" fill="#a882bc"/>
<rect x="1483.59" y="1313.27" width="21.31" height="21.36" fill="#eee6f1"/>
<rect x="1504.3" y="1313.27" width="21.31" height="21.36" fill="#736096"/>
<rect x="1525.01" y="1313.27" width="21.31" height="21.36" fill="#e2d2e8"/>
<rect x="1545.73" y="1313.27" width="21.31" height="21.36" fill="#b692c4"/>
<rect x="1566.44" y="1313.27" width="21.31" height="21.36" fill="#c6a8d2"/>
<rect x="1587.16" y="1313.27" width="21.31" height="21.36" fill="#9673b4"/>
<rect x="1607.87" y="1313.27" width="21.31" height="21.36" fill="#ffffff"/>
<rect x="1628.59" y="1313.27" width="20.71" height="21.36" fill="#f7f3f8"/>
<rect x="1359.3" y="1334.04" width="21.31" height="20.76" fill="#9673b4"/>
<rect x="1380.01" y="1334.04" width="21.31" height="20.76" fill="#a882bc"/>
<rect x="1400.73" y="1334.04" width="21.31" height="20.76" fill="#9673b4"/>
<rect x="1421.44" y="1334.04" width="21.31" height="20.76" fill="#b692c4"/>
<rect x="1442.16" y="1334.04" width="21.31" height="20.76" fill="#9673b4"/>
<rect x="1462.87" y="1334.04" width="21.31" height="20.76" fill="#b692c4"/>
<rect x="1483.59" y="1334.04" width="21.31" height="20.76" fill="#e2d2e8"/>
<rect x="1504.3" y="1334.04" width="21.31" height="20.76" fill="#736096"/>
<rect x="1525.01" y="1334.04" width="21.31" height="20.76" fill="#736096"/>
<rect x="1545.73" y="1334.04" width="21.31" height="20.76" fill="#ffffff"/>
<rect x="1566.44" y="1334.04" width="21.31" height="20.76" fill="#a882bc"/>
<rect x="1587.16" y="1334.04" width="21.31" height="20.76" fill="#ffffff"/>
<rect x="1607.87" y="1334.04" width="21.31" height="20.76" fill="#e2d2e8"/>
<rect x="1628.59" y="1334.04" width="20.71" height="20.76" fill="#c6a8d2"/>
</g>
<rect x="1359.5" y="1064.5" width="289" height="289" fill="none" stroke="#7a7680" stroke-width="1"/>
<path d="M1369.66 1064.1v3M1369.66 1354.8v-3M1390.37 1064.1v3M1390.37 1354.8v-3M1411.09 1064.1v3M1411.09 1354.8v-3M1431.8 1064.1v3M1431.8 1354.8v-3M1452.51 1064.1v3M1452.51 1354.8v-3M1473.23 1064.1v3M1473.23 1354.8v-3M1493.94 1064.1v3M1493.94 1354.8v-3M1514.66 1064.1v3M1514.66 1354.8v-3M1535.37 1064.1v3M1535.37 1354.8v-3M1556.09 1064.1v3M1556.09 1354.8v-3M1576.8 1064.1v3M1576.8 1354.8v-3M1597.51 1064.1v3M1597.51 1354.8v-3M1618.23 1064.1v3M1618.23 1354.8v-3M1638.94 1064.1v3M1638.94 1354.8v-3M1649.3 1074.48h-3M1359.3 1074.48h3M1649.3 1095.25h-3M1359.3 1095.25h3M1649.3 1116.01h-3M1359.3 1116.01h3M1649.3 1136.77h-3M1359.3 1136.77h3M1649.3 1157.54h-3M1359.3 1157.54h3M1649.3 1178.3h-3M1359.3 1178.3h3M1649.3 1199.07h-3M1359.3 1199.07h3M1649.3 1219.83h-3M1359.3 1219.83h3M1649.3 1240.6h-3M1359.3 1240.6h3M1649.3 1261.36h-3M1359.3 1261.36h3M1649.3 1282.12h-3M1359.3 1282.12h3M1649.3 1302.89h-3M1359.3 1302.89h3M1649.3 1323.65h-3M1359.3 1323.65h3M1649.3 1344.42h-3M1359.3 1344.42h3" stroke="#6a6670" stroke-width="0.9" fill="none"/>
<rect x="1359.3" y="1064.1" width="290" height="145.9" fill="#242223"/>
<rect x="1502.4" y="1210" width="3.8" height="145.3" fill="#231f20"/>
<text x="1439.6" y="1124.8" font-size="24.5" fill="#fff" textLength="149.4" lengthAdjust="spacingAndGlyphs">No “R” choice</text>
<text x="1390.7" y="1155.2" font-size="24.5" fill="#fff" textLength="241.6" lengthAdjust="spacingAndGlyphs">for previous trial ID 1-7</text>
<g shape-rendering="crispEdges">
<rect x="1708" y="1064.8" width="21.27" height="21.31" fill="#575270"/>
<rect x="1728.67" y="1064.8" width="21.27" height="21.31" fill="#655a84"/>
<rect x="1749.34" y="1064.8" width="21.27" height="21.31" fill="#9673b4"/>
<rect x="1770.01" y="1064.8" width="21.27" height="21.31" fill="#c6a8d2"/>
<rect x="1790.69" y="1064.8" width="21.27" height="21.31" fill="#9673b4"/>
<rect x="1811.36" y="1064.8" width="21.27" height="21.31" fill="#c6a8d2"/>
<rect x="1832.03" y="1064.8" width="21.27" height="21.31" fill="#d4bedf"/>
<rect x="1852.7" y="1064.8" width="21.27" height="21.31" fill="#b692c4"/>
<rect x="1873.37" y="1064.8" width="21.27" height="21.31" fill="#a882bc"/>
<rect x="1894.04" y="1064.8" width="21.27" height="21.31" fill="#a882bc"/>
<rect x="1914.71" y="1064.8" width="21.27" height="21.31" fill="#c6a8d2"/>
<rect x="1935.39" y="1064.8" width="21.27" height="21.31" fill="#c6a8d2"/>
<rect x="1956.06" y="1064.8" width="21.27" height="21.31" fill="#d4bedf"/>
<rect x="1976.73" y="1064.8" width="20.67" height="21.31" fill="#d4bedf"/>
<rect x="1708" y="1085.51" width="21.27" height="21.31" fill="#575270"/>
<rect x="1728.67" y="1085.51" width="21.27" height="21.31" fill="#a882bc"/>
<rect x="1749.34" y="1085.51" width="21.27" height="21.31" fill="#b692c4"/>
<rect x="1770.01" y="1085.51" width="21.27" height="21.31" fill="#b692c4"/>
<rect x="1790.69" y="1085.51" width="21.27" height="21.31" fill="#b692c4"/>
<rect x="1811.36" y="1085.51" width="21.27" height="21.31" fill="#e2d2e8"/>
<rect x="1832.03" y="1085.51" width="21.27" height="21.31" fill="#c6a8d2"/>
<rect x="1852.7" y="1085.51" width="21.27" height="21.31" fill="#655a84"/>
<rect x="1873.37" y="1085.51" width="21.27" height="21.31" fill="#9673b4"/>
<rect x="1894.04" y="1085.51" width="21.27" height="21.31" fill="#c6a8d2"/>
<rect x="1914.71" y="1085.51" width="21.27" height="21.31" fill="#a882bc"/>
<rect x="1935.39" y="1085.51" width="21.27" height="21.31" fill="#b692c4"/>
<rect x="1956.06" y="1085.51" width="21.27" height="21.31" fill="#b692c4"/>
<rect x="1976.73" y="1085.51" width="20.67" height="21.31" fill="#eee6f1"/>
<rect x="1708" y="1106.23" width="21.27" height="21.31" fill="#736096"/>
<rect x="1728.67" y="1106.23" width="21.27" height="21.31" fill="#a882bc"/>
<rect x="1749.34" y="1106.23" width="21.27" height="21.31" fill="#a882bc"/>
<rect x="1770.01" y="1106.23" width="21.27" height="21.31" fill="#a882bc"/>
<rect x="1790.69" y="1106.23" width="21.27" height="21.31" fill="#c6a8d2"/>
<rect x="1811.36" y="1106.23" width="21.27" height="21.31" fill="#b692c4"/>
<rect x="1832.03" y="1106.23" width="21.27" height="21.31" fill="#a882bc"/>
<rect x="1852.7" y="1106.23" width="21.27" height="21.31" fill="#736096"/>
<rect x="1873.37" y="1106.23" width="21.27" height="21.31" fill="#d4bedf"/>
<rect x="1894.04" y="1106.23" width="21.27" height="21.31" fill="#c6a8d2"/>
<rect x="1914.71" y="1106.23" width="21.27" height="21.31" fill="#eee6f1"/>
<rect x="1935.39" y="1106.23" width="21.27" height="21.31" fill="#b692c4"/>
<rect x="1956.06" y="1106.23" width="21.27" height="21.31" fill="#c6a8d2"/>
<rect x="1976.73" y="1106.23" width="20.67" height="21.31" fill="#c6a8d2"/>
<rect x="1708" y="1126.94" width="21.27" height="21.31" fill="#8268a8"/>
<rect x="1728.67" y="1126.94" width="21.27" height="21.31" fill="#575270"/>
<rect x="1749.34" y="1126.94" width="21.27" height="21.31" fill="#9673b4"/>
<rect x="1770.01" y="1126.94" width="21.27" height="21.31" fill="#8268a8"/>
<rect x="1790.69" y="1126.94" width="21.27" height="21.31" fill="#9673b4"/>
<rect x="1811.36" y="1126.94" width="21.27" height="21.31" fill="#d4bedf"/>
<rect x="1832.03" y="1126.94" width="21.27" height="21.31" fill="#d4bedf"/>
<rect x="1852.7" y="1126.94" width="21.27" height="21.31" fill="#736096"/>
<rect x="1873.37" y="1126.94" width="21.27" height="21.31" fill="#a882bc"/>
<rect x="1894.04" y="1126.94" width="21.27" height="21.31" fill="#b692c4"/>
<rect x="1914.71" y="1126.94" width="21.27" height="21.31" fill="#b692c4"/>
<rect x="1935.39" y="1126.94" width="21.27" height="21.31" fill="#c6a8d2"/>
<rect x="1956.06" y="1126.94" width="21.27" height="21.31" fill="#b692c4"/>
<rect x="1976.73" y="1126.94" width="20.67" height="21.31" fill="#d4bedf"/>
<rect x="1708" y="1147.66" width="21.27" height="21.31" fill="#4b4d60"/>
<rect x="1728.67" y="1147.66" width="21.27" height="21.31" fill="#736096"/>
<rect x="1749.34" y="1147.66" width="21.27" height="21.31" fill="#9673b4"/>
<rect x="1770.01" y="1147.66" width="21.27" height="21.31" fill="#8268a8"/>
<rect x="1790.69" y="1147.66" width="21.27" height="21.31" fill="#b692c4"/>
<rect x="1811.36" y="1147.66" width="21.27" height="21.31" fill="#c6a8d2"/>
<rect x="1832.03" y="1147.66" width="21.27" height="21.31" fill="#c6a8d2"/>
<rect x="1852.7" y="1147.66" width="21.27" height="21.31" fill="#736096"/>
<rect x="1873.37" y="1147.66" width="21.27" height="21.31" fill="#655a84"/>
<rect x="1894.04" y="1147.66" width="21.27" height="21.31" fill="#a882bc"/>
<rect x="1914.71" y="1147.66" width="21.27" height="21.31" fill="#b692c4"/>
<rect x="1935.39" y="1147.66" width="21.27" height="21.31" fill="#eee6f1"/>
<rect x="1956.06" y="1147.66" width="21.27" height="21.31" fill="#f7f3f8"/>
<rect x="1976.73" y="1147.66" width="20.67" height="21.31" fill="#eee6f1"/>
<rect x="1708" y="1168.37" width="21.27" height="21.31" fill="#374342"/>
<rect x="1728.67" y="1168.37" width="21.27" height="21.31" fill="#3f4850"/>
<rect x="1749.34" y="1168.37" width="21.27" height="21.31" fill="#9673b4"/>
<rect x="1770.01" y="1168.37" width="21.27" height="21.31" fill="#374342"/>
<rect x="1790.69" y="1168.37" width="21.27" height="21.31" fill="#9673b4"/>
<rect x="1811.36" y="1168.37" width="21.27" height="21.31" fill="#a882bc"/>
<rect x="1832.03" y="1168.37" width="21.27" height="21.31" fill="#e2d2e8"/>
<rect x="1852.7" y="1168.37" width="21.27" height="21.31" fill="#9673b4"/>
<rect x="1873.37" y="1168.37" width="21.27" height="21.31" fill="#736096"/>
<rect x="1894.04" y="1168.37" width="21.27" height="21.31" fill="#a882bc"/>
<rect x="1914.71" y="1168.37" width="21.27" height="21.31" fill="#b692c4"/>
<rect x="1935.39" y="1168.37" width="21.27" height="21.31" fill="#b692c4"/>
<rect x="1956.06" y="1168.37" width="21.27" height="21.31" fill="#f7f3f8"/>
<rect x="1976.73" y="1168.37" width="20.67" height="21.31" fill="#ffffff"/>
<rect x="1708" y="1189.09" width="21.27" height="21.31" fill="#655a84"/>
<rect x="1728.67" y="1189.09" width="21.27" height="21.31" fill="#575270"/>
<rect x="1749.34" y="1189.09" width="21.27" height="21.31" fill="#655a84"/>
<rect x="1770.01" y="1189.09" width="21.27" height="21.31" fill="#a882bc"/>
<rect x="1790.69" y="1189.09" width="21.27" height="21.31" fill="#736096"/>
<rect x="1811.36" y="1189.09" width="21.27" height="21.31" fill="#b692c4"/>
<rect x="1832.03" y="1189.09" width="21.27" height="21.31" fill="#b692c4"/>
<rect x="1852.7" y="1189.09" width="21.27" height="21.31" fill="#736096"/>
<rect x="1873.37" y="1189.09" width="21.27" height="21.31" fill="#655a84"/>
<rect x="1894.04" y="1189.09" width="21.27" height="21.31" fill="#b692c4"/>
<rect x="1914.71" y="1189.09" width="21.27" height="21.31" fill="#c6a8d2"/>
<rect x="1935.39" y="1189.09" width="21.27" height="21.31" fill="#b692c4"/>
<rect x="1956.06" y="1189.09" width="21.27" height="21.31" fill="#e2d2e8"/>
<rect x="1976.73" y="1189.09" width="20.67" height="21.31" fill="#e2d2e8"/>
</g>
<rect x="1708.5" y="1064.5" width="288" height="289" fill="none" stroke="#7a7680" stroke-width="1"/>
<path d="M1718.34 1064.8v3M1718.34 1354.8v-3M1739.01 1064.8v3M1739.01 1354.8v-3M1759.68 1064.8v3M1759.68 1354.8v-3M1780.35 1064.8v3M1780.35 1354.8v-3M1801.02 1064.8v3M1801.02 1354.8v-3M1821.69 1064.8v3M1821.69 1354.8v-3M1842.36 1064.8v3M1842.36 1354.8v-3M1863.04 1064.8v3M1863.04 1354.8v-3M1883.71 1064.8v3M1883.71 1354.8v-3M1904.38 1064.8v3M1904.38 1354.8v-3M1925.05 1064.8v3M1925.05 1354.8v-3M1945.72 1064.8v3M1945.72 1354.8v-3M1966.39 1064.8v3M1966.39 1354.8v-3M1987.06 1064.8v3M1987.06 1354.8v-3M1997.4 1075.16h-3M1708 1075.16h3M1997.4 1095.87h-3M1708 1095.87h3M1997.4 1116.59h-3M1708 1116.59h3M1997.4 1137.3h-3M1708 1137.3h3M1997.4 1158.01h-3M1708 1158.01h3M1997.4 1178.73h-3M1708 1178.73h3M1997.4 1199.44h-3M1708 1199.44h3M1997.4 1220.16h-3M1708 1220.16h3M1997.4 1240.87h-3M1708 1240.87h3M1997.4 1261.59h-3M1708 1261.59h3M1997.4 1282.3h-3M1708 1282.3h3M1997.4 1303.01h-3M1708 1303.01h3M1997.4 1323.73h-3M1708 1323.73h3M1997.4 1344.44h-3M1708 1344.44h3" stroke="#6a6670" stroke-width="0.9" fill="none"/>
<rect x="1708" y="1206.7" width="289.4" height="151.1" fill="#242223"/>
<rect x="1851.1" y="1064.8" width="3.8" height="141.9" fill="#231f20"/>
<text x="1779.7" y="1271.3" font-size="24.5" fill="#fff" textLength="145.4" lengthAdjust="spacingAndGlyphs">No “L” choice</text>
<text x="1721.7" y="1302.1" font-size="24.5" fill="#fff" textLength="256.1" lengthAdjust="spacingAndGlyphs">for previous trial ID 8-14</text>
<rect x="1708" y="1206.7" width="289.4" height="1.6" fill="#1f1a20"/>
<rect x="1708" y="1208.3" width="289.4" height="4.6" fill="#2b382e"/>
<text x="-1" y="27.6" font-size="33" fill="#231f20" textLength="231" lengthAdjust="spacingAndGlyphs"><tspan font-weight="bold">a. Rat</tspan> - Auditory</text>
<text x="-1" y="528" font-size="33" fill="#231f20" textLength="289" lengthAdjust="spacingAndGlyphs"><tspan font-weight="bold">b. Human</tspan> - Auditory</text>
<text x="-1" y="1010.7" font-size="33" fill="#231f20" textLength="263" lengthAdjust="spacingAndGlyphs"><tspan font-weight="bold">c. Human</tspan> - Tactile</text>
<text x="796.7" y="31.4" font-size="29.5" fill="#231f20" textLength="129.3" lengthAdjust="spacingAndGlyphs">Rewarded</text>
<text x="1536.8" y="31.4" font-size="29.5" fill="#231f20" textLength="181.5" lengthAdjust="spacingAndGlyphs">Not Rewarded</text>
<text x="796.7" y="521.6" font-size="29.5" fill="#231f20" textLength="129.3" lengthAdjust="spacingAndGlyphs">Rewarded</text>
<text x="1536.8" y="521.6" font-size="29.5" fill="#231f20" textLength="181.5" lengthAdjust="spacingAndGlyphs">Not Rewarded</text>
<text x="796.7" y="1010" font-size="29.5" fill="#231f20" textLength="129.3" lengthAdjust="spacingAndGlyphs">Rewarded</text>
<text x="1536.8" y="1010" font-size="29.5" fill="#231f20" textLength="181.5" lengthAdjust="spacingAndGlyphs">Not Rewarded</text>
<text x="202.4" y="82.5" font-size="29" fill="#231f20" textLength="106" lengthAdjust="spacingAndGlyphs">All Trials</text>
<text x="612.3" y="82.5" font-size="29" fill="#231f20" textLength="139.3" lengthAdjust="spacingAndGlyphs">Went Right</text>
<text x="990" y="82.5" font-size="29" fill="#231f20" textLength="119.8" lengthAdjust="spacingAndGlyphs">Went Left</text>
<text x="1404.8" y="82.7" font-size="29" fill="#231f20" textLength="138.7" lengthAdjust="spacingAndGlyphs">Went Right</text>
<text x="1781.5" y="82.7" font-size="29" fill="#231f20" textLength="119.3" lengthAdjust="spacingAndGlyphs">Went Left</text>
<text x="202.4" y="568.2" font-size="29" fill="#231f20" textLength="106" lengthAdjust="spacingAndGlyphs">All Trials</text>
<text x="600.5" y="568.4" font-size="29" fill="#231f20" textLength="155.6" lengthAdjust="spacingAndGlyphs">Chose Right</text>
<text x="977.6" y="568.4" font-size="29" fill="#231f20" textLength="137.4" lengthAdjust="spacingAndGlyphs">Chose Left</text>
<text x="1392.8" y="568.3" font-size="29" fill="#231f20" textLength="155.3" lengthAdjust="spacingAndGlyphs">Chose Right</text>
<text x="1780.5" y="568.3" font-size="29" fill="#231f20" textLength="137" lengthAdjust="spacingAndGlyphs">Chose Left</text>
<text x="202.1" y="1052.7" font-size="29" fill="#231f20" textLength="107" lengthAdjust="spacingAndGlyphs">All Trials</text>
<text x="607.1" y="1052.7" font-size="29" fill="#231f20" textLength="155.4" lengthAdjust="spacingAndGlyphs">Chose Right</text>
<text x="989.5" y="1052.7" font-size="29" fill="#231f20" textLength="137" lengthAdjust="spacingAndGlyphs">Chose Left</text>
<text x="1383.8" y="1052.7" font-size="29" fill="#231f20" textLength="155.3" lengthAdjust="spacingAndGlyphs">Chose Right</text>
<text x="1780.5" y="1052.7" font-size="29" fill="#231f20" textLength="137" lengthAdjust="spacingAndGlyphs">Chose Left</text>
<text transform="translate(63.4 808.5) rotate(-90)" x="0" y="0" font-size="30" fill="#231f20" textLength="166.2" lengthAdjust="spacingAndGlyphs">Previous Trial</text>
<text x="978.3" y="1428.6" font-size="30" fill="#231f20" textLength="154.3" lengthAdjust="spacingAndGlyphs">Current Trial</text>
<text x="87.5" y="119" font-size="25" fill="#1c1a5c" text-anchor="middle">1</text>
<text x="88.65" y="376.2" font-size="25" fill="#5a0c0c" text-anchor="middle">8</text>
<text x="127" y="415.8" font-size="25" fill="#1c1a5c" text-anchor="middle">1</text>
<text x="384.15" y="415.8" font-size="25" fill="#5a0c0c" text-anchor="middle">8</text>
<text x="540.5" y="119" font-size="25" fill="#1c1a5c" text-anchor="middle">1</text>
<text x="540.9" y="376.2" font-size="25" fill="#5a0c0c" text-anchor="middle">8</text>
<text x="579.7" y="415.8" font-size="25" fill="#1c1a5c" text-anchor="middle">1</text>
<text x="836.65" y="415.8" font-size="25" fill="#5a0c0c" text-anchor="middle">8</text>
<text x="885.8" y="119" font-size="25" fill="#1c1a5c" text-anchor="middle">1</text>
<text x="886.5" y="376.2" font-size="25" fill="#5a0c0c" text-anchor="middle">8</text>
<text x="925.05" y="415.8" font-size="25" fill="#1c1a5c" text-anchor="middle">1</text>
<text x="1182" y="415.8" font-size="25" fill="#5a0c0c" text-anchor="middle">8</text>
<text x="1338.1" y="119" font-size="25" fill="#1c1a5c" text-anchor="middle">1</text>
<text x="1339.2" y="376.2" font-size="25" fill="#5a0c0c" text-anchor="middle">8</text>
<text x="1377.7" y="415.8" font-size="25" fill="#1c1a5c" text-anchor="middle">1</text>
<text x="1635" y="415.8" font-size="25" fill="#5a0c0c" text-anchor="middle">8</text>
<text x="96" y="601.5" font-size="24" fill="#1c1a5c" text-anchor="middle">1</text>
<text x="90.75" y="870.4" font-size="24" fill="#5a0c0c" text-anchor="middle">10</text>
<text x="128.35" y="897" font-size="24" fill="#1c1a5c" text-anchor="middle">1</text>
<text x="386.75" y="897" font-size="24" fill="#5a0c0c" text-anchor="middle">10</text>
<text x="546.8" y="601.5" font-size="24" fill="#1c1a5c" text-anchor="middle">1</text>
<text x="540.35" y="870.4" font-size="24" fill="#5a0c0c" text-anchor="middle">10</text>
<text x="577.8" y="897" font-size="24" fill="#1c1a5c" text-anchor="middle">1</text>
<text x="836.4" y="897" font-size="24" fill="#5a0c0c" text-anchor="middle">10</text>
<text x="896.8" y="601.5" font-size="24" fill="#1c1a5c" text-anchor="middle">1</text>
<text x="891.4" y="870.4" font-size="24" fill="#5a0c0c" text-anchor="middle">10</text>
<text x="927.85" y="897" font-size="24" fill="#1c1a5c" text-anchor="middle">1</text>
<text x="1186.25" y="897" font-size="24" fill="#5a0c0c" text-anchor="middle">10</text>
<text x="1344" y="601.5" font-size="24" fill="#1c1a5c" text-anchor="middle">1</text>
<text x="1338.1" y="869.8" font-size="24" fill="#5a0c0c" text-anchor="middle">10</text>
<text x="1376.2" y="897" font-size="24" fill="#1c1a5c" text-anchor="middle">1</text>
<text x="1634.2" y="897" font-size="24" fill="#5a0c0c" text-anchor="middle">10</text>
<text x="1689.8" y="601.5" font-size="24" fill="#1c1a5c" text-anchor="middle">1</text>
<text x="1684.2" y="871.2" font-size="24" fill="#5a0c0c" text-anchor="middle">10</text>
<text x="1722.15" y="897" font-size="24" fill="#1c1a5c" text-anchor="middle">1</text>
<text x="1980" y="897" font-size="24" fill="#5a0c0c" text-anchor="middle">10</text>
<text x="96.4" y="1084" font-size="24" fill="#1c1a5c" text-anchor="middle">1</text>
<text x="91" y="1353.5" font-size="24" fill="#5a0c0c" text-anchor="middle">14</text>
<text x="120.4" y="1386" font-size="24" fill="#1c1a5c" text-anchor="middle">1</text>
<text x="400" y="1386" font-size="24" fill="#5a0c0c" text-anchor="middle">14</text>
<text x="552.9" y="1084" font-size="24" fill="#1c1a5c" text-anchor="middle">1</text>
<text x="547" y="1353.5" font-size="24" fill="#5a0c0c" text-anchor="middle">14</text>
<text x="576" y="1380.5" font-size="24" fill="#1c1a5c" text-anchor="middle">1</text>
<text x="852" y="1380.5" font-size="24" fill="#5a0c0c" text-anchor="middle">14</text>
<text x="900.1" y="1084" font-size="24" fill="#1c1a5c" text-anchor="middle">1</text>
<text x="894.9" y="1353.5" font-size="24" fill="#5a0c0c" text-anchor="middle">14</text>
<text x="923.35" y="1380.8" font-size="24" fill="#1c1a5c" text-anchor="middle">1</text>
<text x="1199.4" y="1380.8" font-size="24" fill="#5a0c0c" text-anchor="middle">14</text>
<text x="1347.6" y="1084" font-size="24" fill="#1c1a5c" text-anchor="middle">1</text>
<text x="1342" y="1353.5" font-size="24" fill="#5a0c0c" text-anchor="middle">14</text>
<text x="1370.75" y="1381" font-size="24" fill="#1c1a5c" text-anchor="middle">1</text>
<text x="1647.1" y="1381" font-size="24" fill="#5a0c0c" text-anchor="middle">14</text>
<text x="1691.6" y="1084" font-size="24" fill="#1c1a5c" text-anchor="middle">1</text>
<text x="1686.55" y="1353.5" font-size="24" fill="#5a0c0c" text-anchor="middle">14</text>
<text x="1719.95" y="1381" font-size="24" fill="#1c1a5c" text-anchor="middle">1</text>
<text x="1991.25" y="1381" font-size="24" fill="#5a0c0c" text-anchor="middle">14</text>
<defs><linearGradient id="cb" x1="0" y1="1" x2="0" y2="0"><stop offset="0" stop-color="#233a2b"/><stop offset="0.1" stop-color="#3a4748"/><stop offset="0.2" stop-color="#4a505e"/><stop offset="0.3" stop-color="#6a6088"/><stop offset="0.4" stop-color="#8d74b4"/><stop offset="0.5" stop-color="#a585c0"/><stop offset="0.6" stop-color="#b898cb"/><stop offset="0.7" stop-color="#c8b0d8"/><stop offset="0.8" stop-color="#dccbe6"/><stop offset="0.9" stop-color="#ece2f0"/><stop offset="1.0" stop-color="#f8f4f9"/></linearGradient></defs>
<rect x="2065.8" y="608.8" width="31" height="234.4" rx="1.5" fill="url(#cb)" stroke="#222" stroke-width="2.2"/>
<path d="M2066 796.32h3.5M2096.6 796.32h-3.5M2066 749.44h3.5M2096.6 749.44h-3.5M2066 702.56h3.5M2096.6 702.56h-3.5M2066 655.68h3.5M2096.6 655.68h-3.5" stroke="#222" stroke-width="2" fill="none"/>
<text x="2017.2" y="624.6" font-size="23" fill="#231f20" textLength="42.7" lengthAdjust="spacingAndGlyphs">100</text>
<text x="2050.3" y="843.7" font-size="23" fill="#231f20" text-anchor="middle">0</text>
<text transform="translate(2051.4 758.8) rotate(-90)" x="0" y="0" font-size="28" fill="#231f20" textLength="78.8" lengthAdjust="spacingAndGlyphs">% Left</text>
</svg>
</body></html>
